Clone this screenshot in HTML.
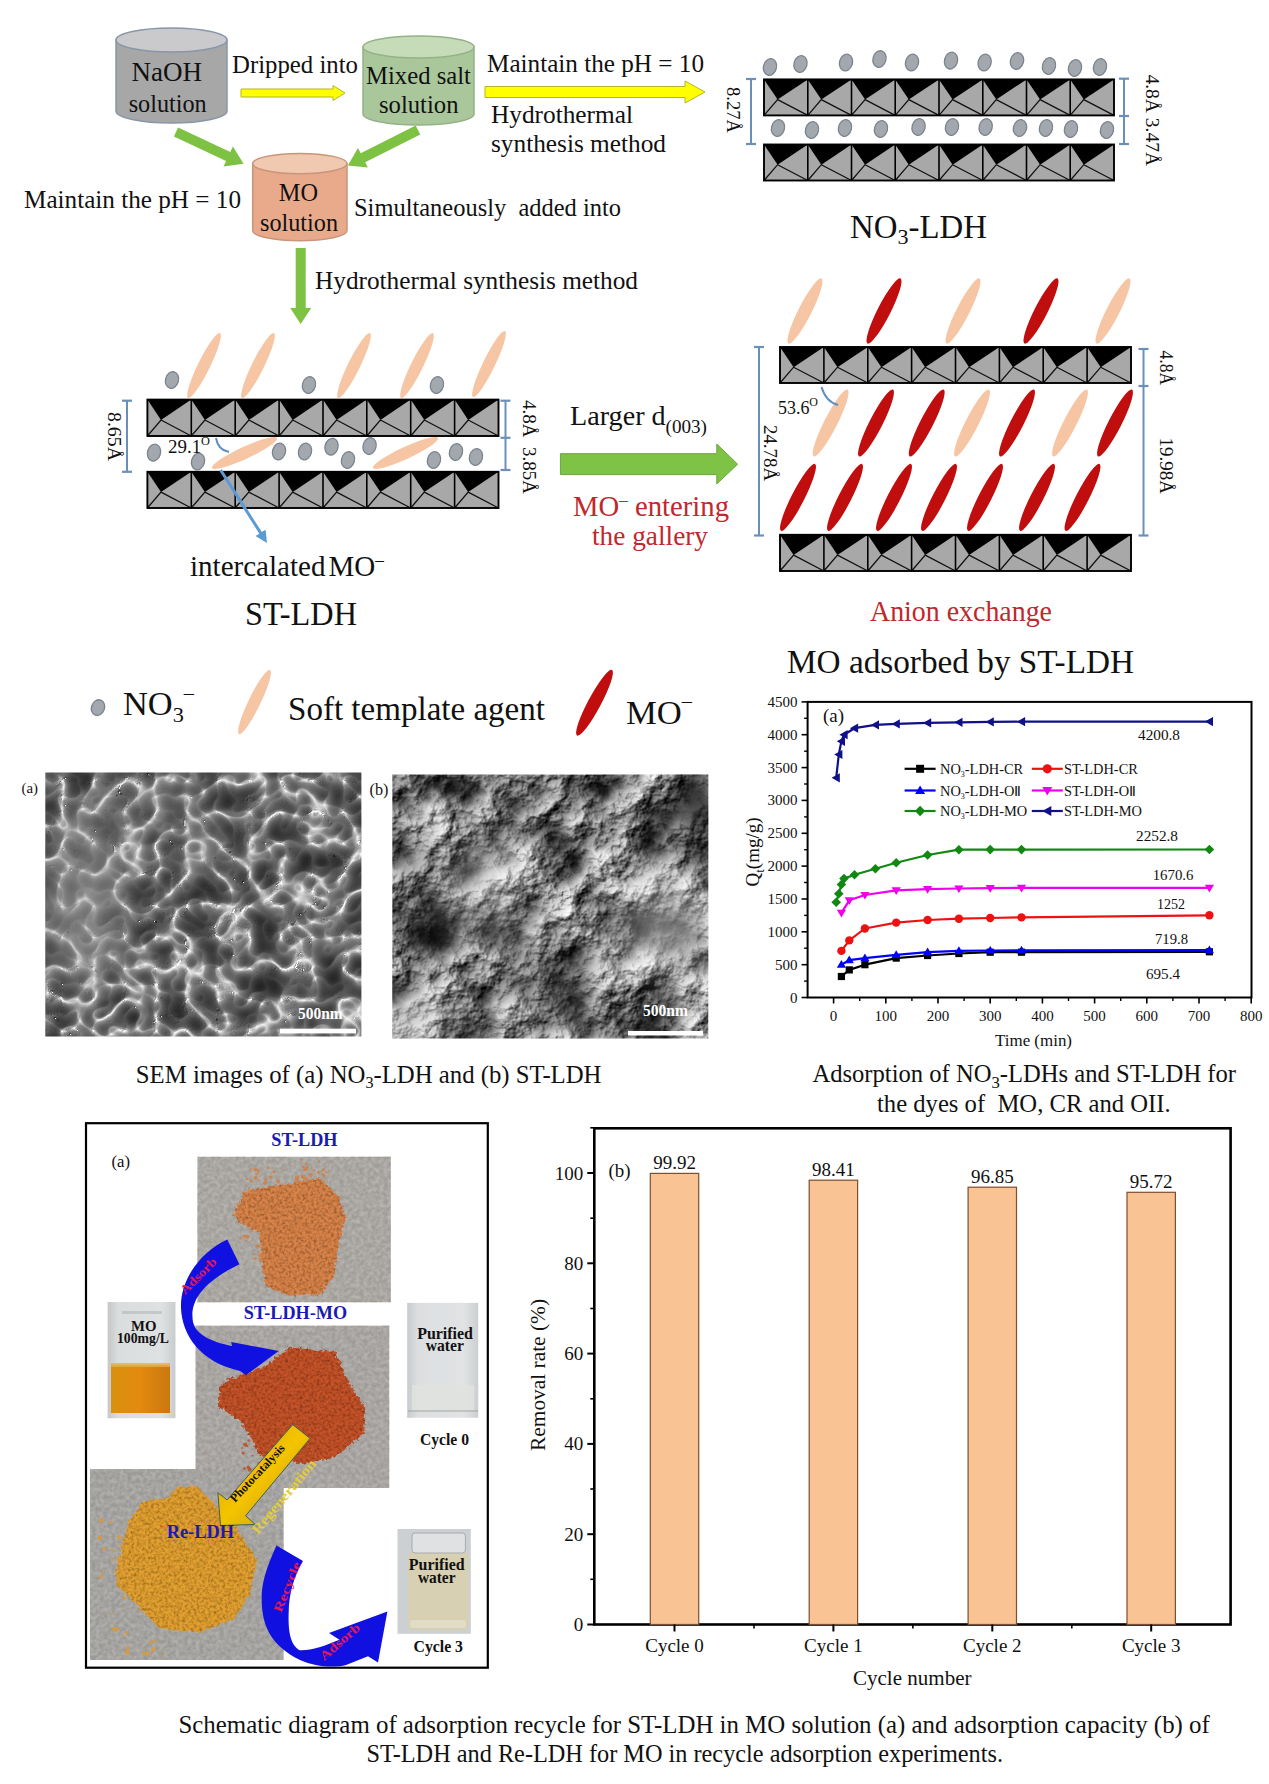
<!DOCTYPE html>
<html><head><meta charset="utf-8"><style>
html,body{margin:0;padding:0;background:#fff;}
svg{display:block;}
</style></head><body>
<svg width="1269" height="1784" viewBox="0 0 1269 1784">
<rect width="1269" height="1784" fill="#fff"/>
<path d="M116,40 L116,111 A55.5,12 0 0 0 227,111 L227,40 Z" fill="#a7a7a8" stroke="#8796a8" stroke-width="1.5"/>
<ellipse cx="171.5" cy="40" rx="55.5" ry="12" fill="#cacacc" stroke="#8796a8" stroke-width="1.5"/>
<text x="131.5" y="80.6" font-size="27.5" fill="#111" font-weight="normal" text-anchor="start" font-family="'Liberation Serif', serif" textLength="70.5" lengthAdjust="spacingAndGlyphs" >NaOH</text>
<text x="128.7" y="111.5" font-size="24.7" fill="#111" font-weight="normal" text-anchor="start" font-family="'Liberation Serif', serif" textLength="78.0" lengthAdjust="spacingAndGlyphs" >solution</text>
<path d="M363,47 L363,114 A55.5,11 0 0 0 474,114 L474,47 Z" fill="#a9c79b" stroke="#93b386" stroke-width="1.5"/>
<ellipse cx="418.5" cy="47" rx="55.5" ry="11" fill="#c6dcb9" stroke="#93b386" stroke-width="1.5"/>
<text x="366.0" y="84.0" font-size="25.2" fill="#111" font-weight="normal" text-anchor="start" font-family="'Liberation Serif', serif" textLength="105.0" lengthAdjust="spacingAndGlyphs" >Mixed salt</text>
<text x="379.0" y="113.0" font-size="25.2" fill="#111" font-weight="normal" text-anchor="start" font-family="'Liberation Serif', serif" textLength="79.5" lengthAdjust="spacingAndGlyphs" >solution</text>
<path d="M252.7,163.6 L252.7,230.5 A47.150000000000006,10.2 0 0 0 347,230.5 L347,163.6 Z" fill="#e9aa8b" stroke="#c9957a" stroke-width="1.5"/>
<ellipse cx="299.85" cy="163.6" rx="47.150000000000006" ry="10.2" fill="#f1c8b0" stroke="#c9957a" stroke-width="1.5"/>
<text x="278.8" y="200.7" font-size="24.8" fill="#111" font-weight="normal" text-anchor="start" font-family="'Liberation Serif', serif" textLength="39.2" lengthAdjust="spacingAndGlyphs" >MO</text>
<text x="260.0" y="230.5" font-size="24.7" fill="#111" font-weight="normal" text-anchor="start" font-family="'Liberation Serif', serif" textLength="78.0" lengthAdjust="spacingAndGlyphs" >solution</text>
<text x="232.0" y="73.0" font-size="25.3" fill="#111" font-weight="normal" text-anchor="start" font-family="'Liberation Serif', serif" textLength="126.0" lengthAdjust="spacingAndGlyphs" >Dripped into</text>
<polygon points="241.0,97.0 333.0,97.0 333.0,100.5 345.0,93.0 333.0,85.5 333.0,89.0 241.0,89.0" fill="#ffff00" stroke="#b5b52a" stroke-width="1"/>
<text x="487.0" y="72.0" font-size="25.7" fill="#111" font-weight="normal" text-anchor="start" font-family="'Liberation Serif', serif" textLength="217.0" lengthAdjust="spacingAndGlyphs" >Maintain the pH = 10</text>
<polygon points="485.0,97.5 685.0,97.5 685.0,103.0 705.0,92.0 685.0,81.0 685.0,86.5 485.0,86.5" fill="#ffff00" stroke="#b5b52a" stroke-width="1"/>
<text x="491.0" y="123.0" font-size="25.8" fill="#111" font-weight="normal" text-anchor="start" font-family="'Liberation Serif', serif" textLength="142.0" lengthAdjust="spacingAndGlyphs" >Hydrothermal</text>
<text x="491.0" y="152.0" font-size="25.8" fill="#111" font-weight="normal" text-anchor="start" font-family="'Liberation Serif', serif" textLength="175.0" lengthAdjust="spacingAndGlyphs" >synthesis method</text>
<polygon points="173.9,136.5 226.1,161.1 223.5,166.5 243.6,163.8 232.9,146.6 230.3,152.0 178.1,127.5" fill="#7dc243"/>
<polygon points="415.7,125.5 360.7,153.3 358.0,147.9 347.8,165.4 367.9,167.6 365.2,162.2 420.3,134.5" fill="#7dc243"/>
<polygon points="295.7,248.0 295.7,308.0 290.2,308.0 300.7,324.0 311.2,308.0 305.7,308.0 305.7,248.0" fill="#7dc243"/>
<text x="24.0" y="208.0" font-size="25.7" fill="#111" font-weight="normal" text-anchor="start" font-family="'Liberation Serif', serif" textLength="217.0" lengthAdjust="spacingAndGlyphs" >Maintain the pH = 10</text>
<text x="354.0" y="216.0" font-size="24.9" fill="#111" font-weight="normal" text-anchor="start" font-family="'Liberation Serif', serif" textLength="267.0" lengthAdjust="spacingAndGlyphs" >Simultaneously&#160; added into</text>
<text x="315.0" y="289.0" font-size="25.8" fill="#111" font-weight="normal" text-anchor="start" font-family="'Liberation Serif', serif" textLength="323.0" lengthAdjust="spacingAndGlyphs" >Hydrothermal synthesis method</text>
<ellipse cx="770" cy="67" rx="6.5" ry="8.5" transform="rotate(15 770 67)" fill="#a3a7ae" stroke="#7b838d" stroke-width="1.3"/>
<ellipse cx="800.5" cy="64" rx="6.5" ry="8.5" transform="rotate(15 800.5 64)" fill="#a3a7ae" stroke="#7b838d" stroke-width="1.3"/>
<ellipse cx="846" cy="62.5" rx="6.5" ry="8.5" transform="rotate(15 846 62.5)" fill="#a3a7ae" stroke="#7b838d" stroke-width="1.3"/>
<ellipse cx="879.5" cy="59" rx="6.5" ry="8.5" transform="rotate(15 879.5 59)" fill="#a3a7ae" stroke="#7b838d" stroke-width="1.3"/>
<ellipse cx="912" cy="62.5" rx="6.5" ry="8.5" transform="rotate(15 912 62.5)" fill="#a3a7ae" stroke="#7b838d" stroke-width="1.3"/>
<ellipse cx="951" cy="60.6" rx="6.5" ry="8.5" transform="rotate(15 951 60.6)" fill="#a3a7ae" stroke="#7b838d" stroke-width="1.3"/>
<ellipse cx="984.6" cy="62.5" rx="6.5" ry="8.5" transform="rotate(15 984.6 62.5)" fill="#a3a7ae" stroke="#7b838d" stroke-width="1.3"/>
<ellipse cx="1017" cy="61" rx="6.5" ry="8.5" transform="rotate(15 1017 61)" fill="#a3a7ae" stroke="#7b838d" stroke-width="1.3"/>
<ellipse cx="1049" cy="66" rx="6.5" ry="8.5" transform="rotate(15 1049 66)" fill="#a3a7ae" stroke="#7b838d" stroke-width="1.3"/>
<ellipse cx="1075" cy="68" rx="6.5" ry="8.5" transform="rotate(15 1075 68)" fill="#a3a7ae" stroke="#7b838d" stroke-width="1.3"/>
<ellipse cx="1100" cy="67" rx="6.5" ry="8.5" transform="rotate(15 1100 67)" fill="#a3a7ae" stroke="#7b838d" stroke-width="1.3"/>
<ellipse cx="778" cy="128" rx="6.5" ry="8.5" transform="rotate(15 778 128)" fill="#a3a7ae" stroke="#7b838d" stroke-width="1.3"/>
<ellipse cx="812" cy="130" rx="6.5" ry="8.5" transform="rotate(15 812 130)" fill="#a3a7ae" stroke="#7b838d" stroke-width="1.3"/>
<ellipse cx="845" cy="128" rx="6.5" ry="8.5" transform="rotate(15 845 128)" fill="#a3a7ae" stroke="#7b838d" stroke-width="1.3"/>
<ellipse cx="881" cy="129" rx="6.5" ry="8.5" transform="rotate(15 881 129)" fill="#a3a7ae" stroke="#7b838d" stroke-width="1.3"/>
<ellipse cx="918.6" cy="127" rx="6.5" ry="8.5" transform="rotate(15 918.6 127)" fill="#a3a7ae" stroke="#7b838d" stroke-width="1.3"/>
<ellipse cx="952" cy="127" rx="6.5" ry="8.5" transform="rotate(15 952 127)" fill="#a3a7ae" stroke="#7b838d" stroke-width="1.3"/>
<ellipse cx="985.7" cy="127" rx="6.5" ry="8.5" transform="rotate(15 985.7 127)" fill="#a3a7ae" stroke="#7b838d" stroke-width="1.3"/>
<ellipse cx="1020" cy="128" rx="6.5" ry="8.5" transform="rotate(15 1020 128)" fill="#a3a7ae" stroke="#7b838d" stroke-width="1.3"/>
<ellipse cx="1046" cy="128" rx="6.5" ry="8.5" transform="rotate(15 1046 128)" fill="#a3a7ae" stroke="#7b838d" stroke-width="1.3"/>
<ellipse cx="1071" cy="129" rx="6.5" ry="8.5" transform="rotate(15 1071 129)" fill="#a3a7ae" stroke="#7b838d" stroke-width="1.3"/>
<ellipse cx="1107" cy="130" rx="6.5" ry="8.5" transform="rotate(15 1107 130)" fill="#a3a7ae" stroke="#7b838d" stroke-width="1.3"/>
<rect x="764" y="79.4" width="350" height="36.0" fill="#a8a8a8"/>
<polygon points="764.0,79.4 807.8,79.4 777.6,99.6" fill="#000"/>
<path d="M764.0,115.4 L777.6,99.6 L807.8,115.4" stroke="#111" stroke-width="1.3" fill="none"/>
<polygon points="807.8,79.4 851.5,79.4 821.3,99.6" fill="#000"/>
<path d="M807.8,115.4 L821.3,99.6 L851.5,115.4" stroke="#111" stroke-width="1.3" fill="none"/>
<line x1="807.8" y1="79.4" x2="807.8" y2="115.4" stroke="#000" stroke-width="1.6"/>
<polygon points="851.5,79.4 895.2,79.4 865.1,99.6" fill="#000"/>
<path d="M851.5,115.4 L865.1,99.6 L895.2,115.4" stroke="#111" stroke-width="1.3" fill="none"/>
<line x1="851.5" y1="79.4" x2="851.5" y2="115.4" stroke="#000" stroke-width="1.6"/>
<polygon points="895.2,79.4 939.0,79.4 908.8,99.6" fill="#000"/>
<path d="M895.2,115.4 L908.8,99.6 L939.0,115.4" stroke="#111" stroke-width="1.3" fill="none"/>
<line x1="895.2" y1="79.4" x2="895.2" y2="115.4" stroke="#000" stroke-width="1.6"/>
<polygon points="939.0,79.4 982.8,79.4 952.6,99.6" fill="#000"/>
<path d="M939.0,115.4 L952.6,99.6 L982.8,115.4" stroke="#111" stroke-width="1.3" fill="none"/>
<line x1="939.0" y1="79.4" x2="939.0" y2="115.4" stroke="#000" stroke-width="1.6"/>
<polygon points="982.8,79.4 1026.5,79.4 996.3,99.6" fill="#000"/>
<path d="M982.8,115.4 L996.3,99.6 L1026.5,115.4" stroke="#111" stroke-width="1.3" fill="none"/>
<line x1="982.8" y1="79.4" x2="982.8" y2="115.4" stroke="#000" stroke-width="1.6"/>
<polygon points="1026.5,79.4 1070.2,79.4 1040.1,99.6" fill="#000"/>
<path d="M1026.5,115.4 L1040.1,99.6 L1070.2,115.4" stroke="#111" stroke-width="1.3" fill="none"/>
<line x1="1026.5" y1="79.4" x2="1026.5" y2="115.4" stroke="#000" stroke-width="1.6"/>
<polygon points="1070.2,79.4 1114.0,79.4 1083.8,99.6" fill="#000"/>
<path d="M1070.2,115.4 L1083.8,99.6 L1114.0,115.4" stroke="#111" stroke-width="1.3" fill="none"/>
<line x1="1070.2" y1="79.4" x2="1070.2" y2="115.4" stroke="#000" stroke-width="1.6"/>
<rect x="764" y="79.4" width="350" height="36.0" fill="none" stroke="#000" stroke-width="1.9"/>
<rect x="764" y="144.5" width="350" height="36.0" fill="#a8a8a8"/>
<polygon points="764.0,144.5 807.8,144.5 777.6,164.7" fill="#000"/>
<path d="M764.0,180.5 L777.6,164.7 L807.8,180.5" stroke="#111" stroke-width="1.3" fill="none"/>
<polygon points="807.8,144.5 851.5,144.5 821.3,164.7" fill="#000"/>
<path d="M807.8,180.5 L821.3,164.7 L851.5,180.5" stroke="#111" stroke-width="1.3" fill="none"/>
<line x1="807.8" y1="144.5" x2="807.8" y2="180.5" stroke="#000" stroke-width="1.6"/>
<polygon points="851.5,144.5 895.2,144.5 865.1,164.7" fill="#000"/>
<path d="M851.5,180.5 L865.1,164.7 L895.2,180.5" stroke="#111" stroke-width="1.3" fill="none"/>
<line x1="851.5" y1="144.5" x2="851.5" y2="180.5" stroke="#000" stroke-width="1.6"/>
<polygon points="895.2,144.5 939.0,144.5 908.8,164.7" fill="#000"/>
<path d="M895.2,180.5 L908.8,164.7 L939.0,180.5" stroke="#111" stroke-width="1.3" fill="none"/>
<line x1="895.2" y1="144.5" x2="895.2" y2="180.5" stroke="#000" stroke-width="1.6"/>
<polygon points="939.0,144.5 982.8,144.5 952.6,164.7" fill="#000"/>
<path d="M939.0,180.5 L952.6,164.7 L982.8,180.5" stroke="#111" stroke-width="1.3" fill="none"/>
<line x1="939.0" y1="144.5" x2="939.0" y2="180.5" stroke="#000" stroke-width="1.6"/>
<polygon points="982.8,144.5 1026.5,144.5 996.3,164.7" fill="#000"/>
<path d="M982.8,180.5 L996.3,164.7 L1026.5,180.5" stroke="#111" stroke-width="1.3" fill="none"/>
<line x1="982.8" y1="144.5" x2="982.8" y2="180.5" stroke="#000" stroke-width="1.6"/>
<polygon points="1026.5,144.5 1070.2,144.5 1040.1,164.7" fill="#000"/>
<path d="M1026.5,180.5 L1040.1,164.7 L1070.2,180.5" stroke="#111" stroke-width="1.3" fill="none"/>
<line x1="1026.5" y1="144.5" x2="1026.5" y2="180.5" stroke="#000" stroke-width="1.6"/>
<polygon points="1070.2,144.5 1114.0,144.5 1083.8,164.7" fill="#000"/>
<path d="M1070.2,180.5 L1083.8,164.7 L1114.0,180.5" stroke="#111" stroke-width="1.3" fill="none"/>
<line x1="1070.2" y1="144.5" x2="1070.2" y2="180.5" stroke="#000" stroke-width="1.6"/>
<rect x="764" y="144.5" width="350" height="36.0" fill="none" stroke="#000" stroke-width="1.9"/>
<line x1="751" y1="79" x2="751" y2="144" stroke="#6a90b9" stroke-width="2"/>
<line x1="746.0" y1="79" x2="756.0" y2="79" stroke="#6a90b9" stroke-width="2.2"/>
<line x1="746.0" y1="144" x2="756.0" y2="144" stroke="#6a90b9" stroke-width="2.2"/>
<line x1="1124" y1="78.7" x2="1124" y2="144" stroke="#6a90b9" stroke-width="2"/>
<line x1="1119.0" y1="78.7" x2="1129.0" y2="78.7" stroke="#6a90b9" stroke-width="2.2"/>
<line x1="1119.0" y1="116" x2="1129.0" y2="116" stroke="#6a90b9" stroke-width="2.2"/>
<line x1="1119.0" y1="144" x2="1129.0" y2="144" stroke="#6a90b9" stroke-width="2.2"/>
<text x="0" y="0" font-size="18.6" fill="#111" font-family="'Liberation Serif', serif" textLength="46.0" lengthAdjust="spacingAndGlyphs" transform="translate(727,87) rotate(90)">8.27&#197;</text>
<text x="0" y="0" font-size="19.4" fill="#111" font-family="'Liberation Serif', serif" textLength="91.5" lengthAdjust="spacingAndGlyphs" transform="translate(1146,74.5) rotate(90)">4.8&#197; 3.47&#197;</text>
<text x="850.0" y="238.0" font-size="32.8" fill="#111" font-weight="normal" text-anchor="start" font-family="'Liberation Serif', serif" textLength="137.0" lengthAdjust="spacingAndGlyphs" >NO<tspan font-size='22' dy='6'>3</tspan><tspan dy='-6'>-LDH</tspan></text>
<ellipse cx="204.0" cy="365.5" rx="36.2" ry="6.0" transform="rotate(-63.8 204.0 365.5)" fill="#f6c5a4"/>
<ellipse cx="258.0" cy="365.5" rx="36.2" ry="6.0" transform="rotate(-63.8 258.0 365.5)" fill="#f6c5a4"/>
<ellipse cx="354.0" cy="365.5" rx="36.2" ry="6.0" transform="rotate(-63.8 354.0 365.5)" fill="#f6c5a4"/>
<ellipse cx="417.0" cy="365.5" rx="36.2" ry="6.0" transform="rotate(-63.8 417.0 365.5)" fill="#f6c5a4"/>
<ellipse cx="489.0" cy="364.0" rx="36.7" ry="6.0" transform="rotate(-64.1 489.0 364.0)" fill="#f6c5a4"/>
<ellipse cx="172" cy="380" rx="6.5" ry="8.5" transform="rotate(15 172 380)" fill="#a3a7ae" stroke="#7b838d" stroke-width="1.3"/>
<ellipse cx="309" cy="385" rx="6.5" ry="8.5" transform="rotate(15 309 385)" fill="#a3a7ae" stroke="#7b838d" stroke-width="1.3"/>
<ellipse cx="437" cy="385" rx="6.5" ry="8.5" transform="rotate(15 437 385)" fill="#a3a7ae" stroke="#7b838d" stroke-width="1.3"/>
<rect x="147.4" y="399.6" width="351.1" height="36.39999999999998" fill="#a8a8a8"/>
<polygon points="147.4,399.6 191.3,399.6 161.0,420.0" fill="#000"/>
<path d="M147.4,436 L161.0,420.0 L191.3,436" stroke="#111" stroke-width="1.3" fill="none"/>
<polygon points="191.3,399.6 235.2,399.6 204.9,420.0" fill="#000"/>
<path d="M191.3,436 L204.9,420.0 L235.2,436" stroke="#111" stroke-width="1.3" fill="none"/>
<line x1="191.3" y1="399.6" x2="191.3" y2="436" stroke="#000" stroke-width="1.6"/>
<polygon points="235.2,399.6 279.1,399.6 248.8,420.0" fill="#000"/>
<path d="M235.2,436 L248.8,420.0 L279.1,436" stroke="#111" stroke-width="1.3" fill="none"/>
<line x1="235.2" y1="399.6" x2="235.2" y2="436" stroke="#000" stroke-width="1.6"/>
<polygon points="279.1,399.6 322.9,399.6 292.7,420.0" fill="#000"/>
<path d="M279.1,436 L292.7,420.0 L322.9,436" stroke="#111" stroke-width="1.3" fill="none"/>
<line x1="279.1" y1="399.6" x2="279.1" y2="436" stroke="#000" stroke-width="1.6"/>
<polygon points="323.0,399.6 366.8,399.6 336.6,420.0" fill="#000"/>
<path d="M323.0,436 L336.6,420.0 L366.8,436" stroke="#111" stroke-width="1.3" fill="none"/>
<line x1="323.0" y1="399.6" x2="323.0" y2="436" stroke="#000" stroke-width="1.6"/>
<polygon points="366.8,399.6 410.7,399.6 380.4,420.0" fill="#000"/>
<path d="M366.8,436 L380.4,420.0 L410.7,436" stroke="#111" stroke-width="1.3" fill="none"/>
<line x1="366.8" y1="399.6" x2="366.8" y2="436" stroke="#000" stroke-width="1.6"/>
<polygon points="410.7,399.6 454.6,399.6 424.3,420.0" fill="#000"/>
<path d="M410.7,436 L424.3,420.0 L454.6,436" stroke="#111" stroke-width="1.3" fill="none"/>
<line x1="410.7" y1="399.6" x2="410.7" y2="436" stroke="#000" stroke-width="1.6"/>
<polygon points="454.6,399.6 498.5,399.6 468.2,420.0" fill="#000"/>
<path d="M454.6,436 L468.2,420.0 L498.5,436" stroke="#111" stroke-width="1.3" fill="none"/>
<line x1="454.6" y1="399.6" x2="454.6" y2="436" stroke="#000" stroke-width="1.6"/>
<rect x="147.4" y="399.6" width="351.1" height="36.39999999999998" fill="none" stroke="#000" stroke-width="1.9"/>
<ellipse cx="244.5" cy="453.0" rx="35.8" ry="6.0" transform="rotate(-24.8 244.5 453.0)" fill="#f6c5a4"/>
<ellipse cx="405.5" cy="453.0" rx="35.8" ry="6.0" transform="rotate(-24.8 405.5 453.0)" fill="#f6c5a4"/>
<ellipse cx="154" cy="452.6" rx="6.5" ry="8.5" transform="rotate(15 154 452.6)" fill="#a3a7ae" stroke="#7b838d" stroke-width="1.3"/>
<ellipse cx="198" cy="461.5" rx="6.5" ry="8.5" transform="rotate(15 198 461.5)" fill="#a3a7ae" stroke="#7b838d" stroke-width="1.3"/>
<ellipse cx="279" cy="451.5" rx="6.5" ry="8.5" transform="rotate(15 279 451.5)" fill="#a3a7ae" stroke="#7b838d" stroke-width="1.3"/>
<ellipse cx="305" cy="451.5" rx="6.5" ry="8.5" transform="rotate(15 305 451.5)" fill="#a3a7ae" stroke="#7b838d" stroke-width="1.3"/>
<ellipse cx="331.5" cy="446.7" rx="6.5" ry="8.5" transform="rotate(15 331.5 446.7)" fill="#a3a7ae" stroke="#7b838d" stroke-width="1.3"/>
<ellipse cx="348" cy="460" rx="6.5" ry="8.5" transform="rotate(15 348 460)" fill="#a3a7ae" stroke="#7b838d" stroke-width="1.3"/>
<ellipse cx="369.6" cy="446" rx="6.5" ry="8.5" transform="rotate(15 369.6 446)" fill="#a3a7ae" stroke="#7b838d" stroke-width="1.3"/>
<ellipse cx="434" cy="460" rx="6.5" ry="8.5" transform="rotate(15 434 460)" fill="#a3a7ae" stroke="#7b838d" stroke-width="1.3"/>
<ellipse cx="456" cy="452" rx="6.5" ry="8.5" transform="rotate(15 456 452)" fill="#a3a7ae" stroke="#7b838d" stroke-width="1.3"/>
<ellipse cx="476" cy="457" rx="6.5" ry="8.5" transform="rotate(15 476 457)" fill="#a3a7ae" stroke="#7b838d" stroke-width="1.3"/>
<rect x="147.4" y="471.8" width="351.1" height="36.19999999999999" fill="#a8a8a8"/>
<polygon points="147.4,471.8 191.3,471.8 161.0,492.1" fill="#000"/>
<path d="M147.4,508 L161.0,492.1 L191.3,508" stroke="#111" stroke-width="1.3" fill="none"/>
<polygon points="191.3,471.8 235.2,471.8 204.9,492.1" fill="#000"/>
<path d="M191.3,508 L204.9,492.1 L235.2,508" stroke="#111" stroke-width="1.3" fill="none"/>
<line x1="191.3" y1="471.8" x2="191.3" y2="508" stroke="#000" stroke-width="1.6"/>
<polygon points="235.2,471.8 279.1,471.8 248.8,492.1" fill="#000"/>
<path d="M235.2,508 L248.8,492.1 L279.1,508" stroke="#111" stroke-width="1.3" fill="none"/>
<line x1="235.2" y1="471.8" x2="235.2" y2="508" stroke="#000" stroke-width="1.6"/>
<polygon points="279.1,471.8 322.9,471.8 292.7,492.1" fill="#000"/>
<path d="M279.1,508 L292.7,492.1 L322.9,508" stroke="#111" stroke-width="1.3" fill="none"/>
<line x1="279.1" y1="471.8" x2="279.1" y2="508" stroke="#000" stroke-width="1.6"/>
<polygon points="323.0,471.8 366.8,471.8 336.6,492.1" fill="#000"/>
<path d="M323.0,508 L336.6,492.1 L366.8,508" stroke="#111" stroke-width="1.3" fill="none"/>
<line x1="323.0" y1="471.8" x2="323.0" y2="508" stroke="#000" stroke-width="1.6"/>
<polygon points="366.8,471.8 410.7,471.8 380.4,492.1" fill="#000"/>
<path d="M366.8,508 L380.4,492.1 L410.7,508" stroke="#111" stroke-width="1.3" fill="none"/>
<line x1="366.8" y1="471.8" x2="366.8" y2="508" stroke="#000" stroke-width="1.6"/>
<polygon points="410.7,471.8 454.6,471.8 424.3,492.1" fill="#000"/>
<path d="M410.7,508 L424.3,492.1 L454.6,508" stroke="#111" stroke-width="1.3" fill="none"/>
<line x1="410.7" y1="471.8" x2="410.7" y2="508" stroke="#000" stroke-width="1.6"/>
<polygon points="454.6,471.8 498.5,471.8 468.2,492.1" fill="#000"/>
<path d="M454.6,508 L468.2,492.1 L498.5,508" stroke="#111" stroke-width="1.3" fill="none"/>
<line x1="454.6" y1="471.8" x2="454.6" y2="508" stroke="#000" stroke-width="1.6"/>
<rect x="147.4" y="471.8" width="351.1" height="36.19999999999999" fill="none" stroke="#000" stroke-width="1.9"/>
<line x1="127" y1="400.7" x2="127" y2="471.8" stroke="#6a90b9" stroke-width="2"/>
<line x1="122.0" y1="400.7" x2="132.0" y2="400.7" stroke="#6a90b9" stroke-width="2.2"/>
<line x1="122.0" y1="471.8" x2="132.0" y2="471.8" stroke="#6a90b9" stroke-width="2.2"/>
<line x1="505.5" y1="400.7" x2="505.5" y2="470" stroke="#6a90b9" stroke-width="2"/>
<line x1="500.5" y1="400.7" x2="510.5" y2="400.7" stroke="#6a90b9" stroke-width="2.2"/>
<line x1="500.5" y1="437.8" x2="510.5" y2="437.8" stroke="#6a90b9" stroke-width="2.2"/>
<line x1="500.5" y1="470" x2="510.5" y2="470" stroke="#6a90b9" stroke-width="2.2"/>
<text x="0" y="0" font-size="19.5" fill="#111" font-family="'Liberation Serif', serif" textLength="49.0" lengthAdjust="spacingAndGlyphs" transform="translate(108,412) rotate(90)">8.65&#197;</text>
<text x="0" y="0" font-size="19" fill="#111" font-family="'Liberation Serif', serif" textLength="94.0" lengthAdjust="spacingAndGlyphs" transform="translate(523,400) rotate(90)">4.8&#197;&#160; 3.85&#197;</text>
<text x="168.0" y="452.6" font-size="18.5" fill="#111" font-weight="normal" text-anchor="start" font-family="'Liberation Serif', serif" textLength="42.0" lengthAdjust="spacingAndGlyphs" >29.1<tspan font-size='12' dy='-8'>O</tspan></text>
<path d="M216,438 Q218,450 229,452" stroke="#5b8fc4" stroke-width="2" fill="none"/>
<polygon points="219.3,470.8 259.3,533.7 255.5,536.1 267.0,543.0 265.6,529.7 261.8,532.1 221.9,469.2" fill="#5b9bd5"/>
<text x="190.0" y="576.0" font-size="28.5" fill="#111" font-weight="normal" text-anchor="start" font-family="'Liberation Serif', serif" textLength="194.0" lengthAdjust="spacingAndGlyphs" >intercalated<tspan dx='3'>MO</tspan><tspan font-size='17' dy='-11'>&#8211;</tspan></text>
<text x="245.0" y="625.0" font-size="33.0" fill="#111" font-weight="normal" text-anchor="start" font-family="'Liberation Serif', serif" textLength="112.0" lengthAdjust="spacingAndGlyphs" >ST-LDH</text>
<text x="570.0" y="425.4" font-size="28" fill="#111" font-weight="normal" text-anchor="start" font-family="'Liberation Serif', serif" textLength="137.0" lengthAdjust="spacingAndGlyphs" >Larger d<tspan font-size='19' dy='8'>(003)</tspan></text>
<polygon points="560.4,453.7 716.8,453.7 716.8,444 737.6,464.2 716.8,484 716.8,474.6 560.4,474.6" fill="#7fc346" stroke="#6aa63a" stroke-width="1"/>
<text x="573.0" y="516.0" font-size="28.5" fill="#c0282d" font-weight="normal" text-anchor="start" font-family="'Liberation Serif', serif" textLength="156.0" lengthAdjust="spacingAndGlyphs" >MO<tspan font-size='17' dy='-11'>&#8211;</tspan><tspan dy='11'> entering</tspan></text>
<text x="592.0" y="544.5" font-size="27.9" fill="#c0282d" font-weight="normal" text-anchor="start" font-family="'Liberation Serif', serif" textLength="116.0" lengthAdjust="spacingAndGlyphs" >the gallery</text>
<ellipse cx="805.0" cy="311.0" rx="36.5" ry="6.5" transform="rotate(-63.0 805.0 311.0)" fill="#f6c5a4"/>
<ellipse cx="884.0" cy="311.0" rx="36.5" ry="6.5" transform="rotate(-63.0 884.0 311.0)" fill="#c00d0d"/>
<ellipse cx="963.0" cy="311.0" rx="36.5" ry="6.5" transform="rotate(-63.0 963.0 311.0)" fill="#f6c5a4"/>
<ellipse cx="1041.0" cy="311.0" rx="36.5" ry="6.5" transform="rotate(-63.0 1041.0 311.0)" fill="#c00d0d"/>
<ellipse cx="1113.0" cy="311.0" rx="36.5" ry="6.5" transform="rotate(-63.0 1113.0 311.0)" fill="#f6c5a4"/>
<rect x="780" y="347" width="351" height="36" fill="#a8a8a8"/>
<polygon points="780.0,347 823.9,347 793.6,367.2" fill="#000"/>
<path d="M780.0,383 L793.6,367.2 L823.9,383" stroke="#111" stroke-width="1.3" fill="none"/>
<polygon points="823.9,347 867.8,347 837.5,367.2" fill="#000"/>
<path d="M823.9,383 L837.5,367.2 L867.8,383" stroke="#111" stroke-width="1.3" fill="none"/>
<line x1="823.9" y1="347" x2="823.9" y2="383" stroke="#000" stroke-width="1.6"/>
<polygon points="867.8,347 911.6,347 881.4,367.2" fill="#000"/>
<path d="M867.8,383 L881.4,367.2 L911.6,383" stroke="#111" stroke-width="1.3" fill="none"/>
<line x1="867.8" y1="347" x2="867.8" y2="383" stroke="#000" stroke-width="1.6"/>
<polygon points="911.6,347 955.5,347 925.2,367.2" fill="#000"/>
<path d="M911.6,383 L925.2,367.2 L955.5,383" stroke="#111" stroke-width="1.3" fill="none"/>
<line x1="911.6" y1="347" x2="911.6" y2="383" stroke="#000" stroke-width="1.6"/>
<polygon points="955.5,347 999.4,347 969.1,367.2" fill="#000"/>
<path d="M955.5,383 L969.1,367.2 L999.4,383" stroke="#111" stroke-width="1.3" fill="none"/>
<line x1="955.5" y1="347" x2="955.5" y2="383" stroke="#000" stroke-width="1.6"/>
<polygon points="999.4,347 1043.2,347 1013.0,367.2" fill="#000"/>
<path d="M999.4,383 L1013.0,367.2 L1043.2,383" stroke="#111" stroke-width="1.3" fill="none"/>
<line x1="999.4" y1="347" x2="999.4" y2="383" stroke="#000" stroke-width="1.6"/>
<polygon points="1043.2,347 1087.1,347 1056.9,367.2" fill="#000"/>
<path d="M1043.2,383 L1056.9,367.2 L1087.1,383" stroke="#111" stroke-width="1.3" fill="none"/>
<line x1="1043.2" y1="347" x2="1043.2" y2="383" stroke="#000" stroke-width="1.6"/>
<polygon points="1087.1,347 1131.0,347 1100.7,367.2" fill="#000"/>
<path d="M1087.1,383 L1100.7,367.2 L1131.0,383" stroke="#111" stroke-width="1.3" fill="none"/>
<line x1="1087.1" y1="347" x2="1087.1" y2="383" stroke="#000" stroke-width="1.6"/>
<rect x="780" y="347" width="351" height="36" fill="none" stroke="#000" stroke-width="1.9"/>
<ellipse cx="830.6" cy="423.0" rx="37.5" ry="6.5" transform="rotate(-63.0 830.6 423.0)" fill="#f6c5a4"/>
<ellipse cx="876.0" cy="423.0" rx="37.5" ry="6.5" transform="rotate(-63.0 876.0 423.0)" fill="#c00d0d"/>
<ellipse cx="926.7" cy="423.0" rx="37.5" ry="6.5" transform="rotate(-63.0 926.7 423.0)" fill="#c00d0d"/>
<ellipse cx="972.0" cy="423.0" rx="37.5" ry="6.5" transform="rotate(-63.0 972.0 423.0)" fill="#f6c5a4"/>
<ellipse cx="1017.0" cy="423.0" rx="37.5" ry="6.5" transform="rotate(-63.0 1017.0 423.0)" fill="#c00d0d"/>
<ellipse cx="1070.0" cy="423.0" rx="37.5" ry="6.5" transform="rotate(-63.0 1070.0 423.0)" fill="#f6c5a4"/>
<ellipse cx="1115.0" cy="423.0" rx="37.5" ry="6.5" transform="rotate(-63.0 1115.0 423.0)" fill="#c00d0d"/>
<ellipse cx="798.0" cy="497.4" rx="37.5" ry="6.5" transform="rotate(-63.0 798.0 497.4)" fill="#c00d0d"/>
<ellipse cx="845.0" cy="497.4" rx="37.5" ry="6.5" transform="rotate(-63.0 845.0 497.4)" fill="#c00d0d"/>
<ellipse cx="894.0" cy="497.4" rx="37.5" ry="6.5" transform="rotate(-63.0 894.0 497.4)" fill="#c00d0d"/>
<ellipse cx="939.0" cy="497.4" rx="37.5" ry="6.5" transform="rotate(-63.0 939.0 497.4)" fill="#c00d0d"/>
<ellipse cx="985.0" cy="497.4" rx="37.5" ry="6.5" transform="rotate(-63.0 985.0 497.4)" fill="#c00d0d"/>
<ellipse cx="1037.0" cy="497.4" rx="37.5" ry="6.5" transform="rotate(-63.0 1037.0 497.4)" fill="#c00d0d"/>
<ellipse cx="1082.5" cy="497.4" rx="37.5" ry="6.5" transform="rotate(-63.0 1082.5 497.4)" fill="#c00d0d"/>
<rect x="780" y="534.8" width="351" height="36.200000000000045" fill="#a8a8a8"/>
<polygon points="780.0,534.8 823.9,534.8 793.6,555.1" fill="#000"/>
<path d="M780.0,571 L793.6,555.1 L823.9,571" stroke="#111" stroke-width="1.3" fill="none"/>
<polygon points="823.9,534.8 867.8,534.8 837.5,555.1" fill="#000"/>
<path d="M823.9,571 L837.5,555.1 L867.8,571" stroke="#111" stroke-width="1.3" fill="none"/>
<line x1="823.9" y1="534.8" x2="823.9" y2="571" stroke="#000" stroke-width="1.6"/>
<polygon points="867.8,534.8 911.6,534.8 881.4,555.1" fill="#000"/>
<path d="M867.8,571 L881.4,555.1 L911.6,571" stroke="#111" stroke-width="1.3" fill="none"/>
<line x1="867.8" y1="534.8" x2="867.8" y2="571" stroke="#000" stroke-width="1.6"/>
<polygon points="911.6,534.8 955.5,534.8 925.2,555.1" fill="#000"/>
<path d="M911.6,571 L925.2,555.1 L955.5,571" stroke="#111" stroke-width="1.3" fill="none"/>
<line x1="911.6" y1="534.8" x2="911.6" y2="571" stroke="#000" stroke-width="1.6"/>
<polygon points="955.5,534.8 999.4,534.8 969.1,555.1" fill="#000"/>
<path d="M955.5,571 L969.1,555.1 L999.4,571" stroke="#111" stroke-width="1.3" fill="none"/>
<line x1="955.5" y1="534.8" x2="955.5" y2="571" stroke="#000" stroke-width="1.6"/>
<polygon points="999.4,534.8 1043.2,534.8 1013.0,555.1" fill="#000"/>
<path d="M999.4,571 L1013.0,555.1 L1043.2,571" stroke="#111" stroke-width="1.3" fill="none"/>
<line x1="999.4" y1="534.8" x2="999.4" y2="571" stroke="#000" stroke-width="1.6"/>
<polygon points="1043.2,534.8 1087.1,534.8 1056.9,555.1" fill="#000"/>
<path d="M1043.2,571 L1056.9,555.1 L1087.1,571" stroke="#111" stroke-width="1.3" fill="none"/>
<line x1="1043.2" y1="534.8" x2="1043.2" y2="571" stroke="#000" stroke-width="1.6"/>
<polygon points="1087.1,534.8 1131.0,534.8 1100.7,555.1" fill="#000"/>
<path d="M1087.1,571 L1100.7,555.1 L1131.0,571" stroke="#111" stroke-width="1.3" fill="none"/>
<line x1="1087.1" y1="534.8" x2="1087.1" y2="571" stroke="#000" stroke-width="1.6"/>
<rect x="780" y="534.8" width="351" height="36.200000000000045" fill="none" stroke="#000" stroke-width="1.9"/>
<line x1="759" y1="347" x2="759" y2="535.5" stroke="#6a90b9" stroke-width="2"/>
<line x1="754.0" y1="347" x2="764.0" y2="347" stroke="#6a90b9" stroke-width="2.2"/>
<line x1="754.0" y1="535.5" x2="764.0" y2="535.5" stroke="#6a90b9" stroke-width="2.2"/>
<line x1="1143.5" y1="349" x2="1143.5" y2="535.5" stroke="#6a90b9" stroke-width="2"/>
<line x1="1138.5" y1="349" x2="1148.5" y2="349" stroke="#6a90b9" stroke-width="2.2"/>
<line x1="1138.5" y1="386" x2="1148.5" y2="386" stroke="#6a90b9" stroke-width="2.2"/>
<line x1="1138.5" y1="535.5" x2="1148.5" y2="535.5" stroke="#6a90b9" stroke-width="2.2"/>
<text x="0" y="0" font-size="18.8" fill="#111" font-family="'Liberation Serif', serif" textLength="56.0" lengthAdjust="spacingAndGlyphs" transform="translate(764,425) rotate(90)">24.78&#197;</text>
<text x="0" y="0" font-size="18.5" fill="#111" font-family="'Liberation Serif', serif" textLength="34.4" lengthAdjust="spacingAndGlyphs" transform="translate(1160,350.6) rotate(90)">4.8&#197;</text>
<text x="0" y="0" font-size="18.9" fill="#111" font-family="'Liberation Serif', serif" textLength="56.4" lengthAdjust="spacingAndGlyphs" transform="translate(1160,437.6) rotate(90)">19.98&#197;</text>
<text x="778.0" y="414.0" font-size="18" fill="#111" font-weight="normal" text-anchor="start" font-family="'Liberation Serif', serif" textLength="40.0" lengthAdjust="spacingAndGlyphs" >53.6<tspan font-size='12' dy='-8'>O</tspan></text>
<path d="M821.5,387 Q826,402 838,405" stroke="#5b8fc4" stroke-width="2" fill="none"/>
<text x="870.0" y="620.8" font-size="28.4" fill="#c0282d" font-weight="normal" text-anchor="start" font-family="'Liberation Serif', serif" textLength="182.0" lengthAdjust="spacingAndGlyphs" >Anion exchange</text>
<text x="787.0" y="673.0" font-size="33.9" fill="#111" font-weight="normal" text-anchor="start" font-family="'Liberation Serif', serif" textLength="347.0" lengthAdjust="spacingAndGlyphs" >MO adsorbed by ST-LDH</text>
<ellipse cx="98" cy="707.6" rx="6.5" ry="8" transform="rotate(20 98 707.6)" fill="#a3a7ae" stroke="#7b838d" stroke-width="1.3"/>
<text x="123.0" y="715.0" font-size="34" fill="#111" font-weight="normal" text-anchor="start" font-family="'Liberation Serif', serif" textLength="71.0" lengthAdjust="spacingAndGlyphs" >NO<tspan font-size='22' dy='7'>3</tspan><tspan font-size='20' dy='-22'>&#8211;</tspan></text>
<ellipse cx="254.5" cy="702.0" rx="35.6" ry="6.0" transform="rotate(-64.2 254.5 702.0)" fill="#f6c5a4"/>
<text x="288.0" y="719.7" font-size="33.7" fill="#111" font-weight="normal" text-anchor="start" font-family="'Liberation Serif', serif" textLength="257.0" lengthAdjust="spacingAndGlyphs" >Soft template agent</text>
<ellipse cx="594.5" cy="702.8" rx="37.2" ry="6.5" transform="rotate(-61.9 594.5 702.8)" fill="#c00d0d"/>
<text x="626.0" y="724.0" font-size="34" fill="#111" font-weight="normal" text-anchor="start" font-family="'Liberation Serif', serif" textLength="66.0" lengthAdjust="spacingAndGlyphs" >MO<tspan font-size='20' dy='-16'>&#8211;</tspan></text>
<defs>
<filter id="semA" x="0" y="0" width="100%" height="100%" color-interpolation-filters="sRGB">
 <feTurbulence type="turbulence" baseFrequency="0.032" numOctaves="2" seed="7" result="t0"/>
 <feColorMatrix in="t0" type="matrix" values="1 0 0 0 0  1 0 0 0 0  1 0 0 0 0  0 0 0 0 1" result="t"/>
 <feComponentTransfer in="t" result="walls"><feFuncR type="table" tableValues="0.98 0.5 0.36 0.27 0.2 0.15 0.12"/><feFuncG type="table" tableValues="0.98 0.5 0.36 0.27 0.2 0.15 0.12"/><feFuncB type="table" tableValues="0.98 0.5 0.36 0.27 0.2 0.15 0.12"/></feComponentTransfer>
 <feTurbulence type="turbulence" baseFrequency="0.02" numOctaves="2" seed="3" result="u0"/>
 <feColorMatrix in="u0" type="matrix" values="0 1 0 0 0  0 1 0 0 0  0 1 0 0 0  0 0 0 0 1" result="u"/>
 <feComponentTransfer in="u" result="walls2"><feFuncR type="table" tableValues="1.4 1.1 1 0.95 0.9"/><feFuncG type="table" tableValues="1.4 1.1 1 0.95 0.9"/><feFuncB type="table" tableValues="1.4 1.1 1 0.95 0.9"/></feComponentTransfer>
 <feBlend in="walls" in2="walls2" mode="multiply" result="w"/>
 <feColorMatrix in="t0" type="matrix" values="0 0 0 0 0  0 0 0 0 0  0 0 0 0 0  1 0 0 0 0" result="h"/>
 <feDiffuseLighting in="h" surfaceScale="3" diffuseConstant="1.15" lighting-color="#fff" result="lit"><feDistantLight azimuth="225" elevation="50"/></feDiffuseLighting>
 <feBlend in="w" in2="lit" mode="multiply" result="wl"/>
 <feComponentTransfer in="wl"><feFuncR type="linear" slope="1.09"/><feFuncG type="linear" slope="1.09"/><feFuncB type="linear" slope="1.09"/></feComponentTransfer>
</filter>
<filter id="semB" x="0" y="0" width="100%" height="100%" color-interpolation-filters="sRGB">
 <feTurbulence type="fractalNoise" baseFrequency="0.022" numOctaves="6" seed="21" result="t0"/>
 <feColorMatrix in="t0" type="matrix" values="0 0 0 0 0  0 0 0 0 0  0 0 0 0 0  1 0 0 0 0" result="h"/>
 <feDiffuseLighting in="h" surfaceScale="14" diffuseConstant="1.1" lighting-color="#fff" result="lit">
   <feDistantLight azimuth="225" elevation="45"/>
 </feDiffuseLighting>
 <feComponentTransfer in="t0" result="ao"><feFuncR type="table" tableValues="0 0.15 0.55 0.85 1 1"/></feComponentTransfer>
 <feColorMatrix in="ao" type="matrix" values="1 0 0 0 0  1 0 0 0 0  1 0 0 0 0  0 0 0 0 1" result="ao2"/>
 <feBlend in="lit" in2="ao2" mode="multiply"/>
</filter>
<filter id="blur6"><feGaussianBlur stdDeviation="6"/></filter>
<filter id="blur12"><feGaussianBlur stdDeviation="12"/></filter>
<filter id="blur18" x="-50%" y="-50%" width="200%" height="200%"><feGaussianBlur stdDeviation="18"/></filter>
<clipPath id="clipA"><rect x="45.3" y="772.6" width="316.1" height="263.8"/></clipPath>
<clipPath id="clipB"><rect x="392.3" y="774.4" width="316" height="264.1"/></clipPath>
</defs>
<g clip-path="url(#clipA)">
<rect x="45.3" y="772.6" width="316.1" height="263.8" filter="url(#semA)"/>
<ellipse cx="85" cy="900" rx="45" ry="90" fill="#b0b0b0" opacity="0.45" filter="url(#blur18)"/>
<ellipse cx="140" cy="800" rx="40" ry="30" fill="#aaa" opacity="0.3" filter="url(#blur18)"/>
<ellipse cx="200" cy="840" rx="30" ry="40" fill="#999" opacity="0.3" filter="url(#blur18)"/>
</g>
<g clip-path="url(#clipB)">
<rect x="392.3" y="774.4" width="316" height="264.1" filter="url(#semB)"/>
<ellipse cx="420" cy="900" rx="30" ry="70" fill="#222" opacity="0.35" filter="url(#blur18)"/>
<ellipse cx="560" cy="990" rx="50" ry="40" fill="#222" opacity="0.3" filter="url(#blur18)"/>
<ellipse cx="485" cy="885" rx="40" ry="45" fill="#c8c8c8" opacity="0.4" filter="url(#blur18)"/>
<ellipse cx="668" cy="925" rx="42" ry="55" fill="#d0d0d0" opacity="0.5" filter="url(#blur18)"/>
<ellipse cx="415" cy="1020" rx="35" ry="25" fill="#ccc" opacity="0.5" filter="url(#blur18)"/>
<ellipse cx="700" cy="808" rx="22" ry="35" fill="#000" opacity="1.0" filter="url(#blur18)"/>
</g>
<rect x="280" y="1028.7" width="76" height="4.7" fill="#fff"/>
<rect x="628" y="1031" width="75" height="4.5" fill="#fff"/>
<text x="298.0" y="1019.0" font-size="15.7" fill="#fff" font-weight="bold" text-anchor="start" font-family="'Liberation Serif', serif" textLength="44.6" lengthAdjust="spacingAndGlyphs" >500nm</text>
<text x="643.0" y="1016.0" font-size="15.9" fill="#fff" font-weight="bold" text-anchor="start" font-family="'Liberation Serif', serif" textLength="45.0" lengthAdjust="spacingAndGlyphs" >500nm</text>
<text x="21.5" y="793.0" font-size="15.2" fill="#111" font-weight="normal" text-anchor="start" font-family="'Liberation Serif', serif" textLength="16.5" lengthAdjust="spacingAndGlyphs" >(a)</text>
<text x="369.6" y="795.0" font-size="16.5" fill="#111" font-weight="normal" text-anchor="start" font-family="'Liberation Serif', serif" textLength="18.9" lengthAdjust="spacingAndGlyphs" >(b)</text>
<text x="135.8" y="1082.7" font-size="24.5" fill="#111" font-weight="normal" text-anchor="start" font-family="'Liberation Serif', serif" textLength="465.7" lengthAdjust="spacingAndGlyphs" >SEM images of (a) NO<tspan font-size='16' dy='5'>3</tspan><tspan dy='-5'>-LDH and (b) ST-LDH</tspan></text>
<rect x="807.6" y="701.9" width="443.9" height="295.6" fill="none" stroke="#000" stroke-width="2"/>
<line x1="801.6" y1="997.5" x2="807.6" y2="997.5" stroke="#000" stroke-width="1.6"/>
<text x="797.6" y="1002.5" font-size="15" fill="#111" font-weight="normal" text-anchor="end" font-family="'Liberation Serif', serif" >0</text>
<line x1="804.1" y1="981.1" x2="807.6" y2="981.1" stroke="#000" stroke-width="1.4"/>
<line x1="801.6" y1="964.7" x2="807.6" y2="964.7" stroke="#000" stroke-width="1.6"/>
<text x="797.6" y="969.7" font-size="15" fill="#111" font-weight="normal" text-anchor="end" font-family="'Liberation Serif', serif" >500</text>
<line x1="804.1" y1="948.2" x2="807.6" y2="948.2" stroke="#000" stroke-width="1.4"/>
<line x1="801.6" y1="931.8" x2="807.6" y2="931.8" stroke="#000" stroke-width="1.6"/>
<text x="797.6" y="936.8" font-size="15" fill="#111" font-weight="normal" text-anchor="end" font-family="'Liberation Serif', serif" >1000</text>
<line x1="804.1" y1="915.4" x2="807.6" y2="915.4" stroke="#000" stroke-width="1.4"/>
<line x1="801.6" y1="899.0" x2="807.6" y2="899.0" stroke="#000" stroke-width="1.6"/>
<text x="797.6" y="904.0" font-size="15" fill="#111" font-weight="normal" text-anchor="end" font-family="'Liberation Serif', serif" >1500</text>
<line x1="804.1" y1="882.5" x2="807.6" y2="882.5" stroke="#000" stroke-width="1.4"/>
<line x1="801.6" y1="866.1" x2="807.6" y2="866.1" stroke="#000" stroke-width="1.6"/>
<text x="797.6" y="871.1" font-size="15" fill="#111" font-weight="normal" text-anchor="end" font-family="'Liberation Serif', serif" >2000</text>
<line x1="804.1" y1="849.7" x2="807.6" y2="849.7" stroke="#000" stroke-width="1.4"/>
<line x1="801.6" y1="833.3" x2="807.6" y2="833.3" stroke="#000" stroke-width="1.6"/>
<text x="797.6" y="838.3" font-size="15" fill="#111" font-weight="normal" text-anchor="end" font-family="'Liberation Serif', serif" >2500</text>
<line x1="804.1" y1="816.9" x2="807.6" y2="816.9" stroke="#000" stroke-width="1.4"/>
<line x1="801.6" y1="800.4" x2="807.6" y2="800.4" stroke="#000" stroke-width="1.6"/>
<text x="797.6" y="805.4" font-size="15" fill="#111" font-weight="normal" text-anchor="end" font-family="'Liberation Serif', serif" >3000</text>
<line x1="804.1" y1="784.0" x2="807.6" y2="784.0" stroke="#000" stroke-width="1.4"/>
<line x1="801.6" y1="767.6" x2="807.6" y2="767.6" stroke="#000" stroke-width="1.6"/>
<text x="797.6" y="772.6" font-size="15" fill="#111" font-weight="normal" text-anchor="end" font-family="'Liberation Serif', serif" >3500</text>
<line x1="804.1" y1="751.2" x2="807.6" y2="751.2" stroke="#000" stroke-width="1.4"/>
<line x1="801.6" y1="734.7" x2="807.6" y2="734.7" stroke="#000" stroke-width="1.6"/>
<text x="797.6" y="739.7" font-size="15" fill="#111" font-weight="normal" text-anchor="end" font-family="'Liberation Serif', serif" >4000</text>
<line x1="804.1" y1="718.3" x2="807.6" y2="718.3" stroke="#000" stroke-width="1.4"/>
<line x1="801.6" y1="701.9" x2="807.6" y2="701.9" stroke="#000" stroke-width="1.6"/>
<text x="797.6" y="706.9" font-size="15" fill="#111" font-weight="normal" text-anchor="end" font-family="'Liberation Serif', serif" >4500</text>
<line x1="833.6" y1="997.5" x2="833.6" y2="1003.5" stroke="#000" stroke-width="1.6"/>
<text x="833.6" y="1020.5" font-size="15" fill="#111" font-weight="normal" text-anchor="middle" font-family="'Liberation Serif', serif" >0</text>
<line x1="859.7" y1="997.5" x2="859.7" y2="1001.0" stroke="#000" stroke-width="1.4"/>
<line x1="885.8" y1="997.5" x2="885.8" y2="1003.5" stroke="#000" stroke-width="1.6"/>
<text x="885.8" y="1020.5" font-size="15" fill="#111" font-weight="normal" text-anchor="middle" font-family="'Liberation Serif', serif" >100</text>
<line x1="911.9" y1="997.5" x2="911.9" y2="1001.0" stroke="#000" stroke-width="1.4"/>
<line x1="938.0" y1="997.5" x2="938.0" y2="1003.5" stroke="#000" stroke-width="1.6"/>
<text x="938.0" y="1020.5" font-size="15" fill="#111" font-weight="normal" text-anchor="middle" font-family="'Liberation Serif', serif" >200</text>
<line x1="964.1" y1="997.5" x2="964.1" y2="1001.0" stroke="#000" stroke-width="1.4"/>
<line x1="990.2" y1="997.5" x2="990.2" y2="1003.5" stroke="#000" stroke-width="1.6"/>
<text x="990.2" y="1020.5" font-size="15" fill="#111" font-weight="normal" text-anchor="middle" font-family="'Liberation Serif', serif" >300</text>
<line x1="1016.3" y1="997.5" x2="1016.3" y2="1001.0" stroke="#000" stroke-width="1.4"/>
<line x1="1042.4" y1="997.5" x2="1042.4" y2="1003.5" stroke="#000" stroke-width="1.6"/>
<text x="1042.4" y="1020.5" font-size="15" fill="#111" font-weight="normal" text-anchor="middle" font-family="'Liberation Serif', serif" >400</text>
<line x1="1068.5" y1="997.5" x2="1068.5" y2="1001.0" stroke="#000" stroke-width="1.4"/>
<line x1="1094.6" y1="997.5" x2="1094.6" y2="1003.5" stroke="#000" stroke-width="1.6"/>
<text x="1094.6" y="1020.5" font-size="15" fill="#111" font-weight="normal" text-anchor="middle" font-family="'Liberation Serif', serif" >500</text>
<line x1="1120.7" y1="997.5" x2="1120.7" y2="1001.0" stroke="#000" stroke-width="1.4"/>
<line x1="1146.8" y1="997.5" x2="1146.8" y2="1003.5" stroke="#000" stroke-width="1.6"/>
<text x="1146.8" y="1020.5" font-size="15" fill="#111" font-weight="normal" text-anchor="middle" font-family="'Liberation Serif', serif" >600</text>
<line x1="1172.9" y1="997.5" x2="1172.9" y2="1001.0" stroke="#000" stroke-width="1.4"/>
<line x1="1199.0" y1="997.5" x2="1199.0" y2="1003.5" stroke="#000" stroke-width="1.6"/>
<text x="1199.0" y="1020.5" font-size="15" fill="#111" font-weight="normal" text-anchor="middle" font-family="'Liberation Serif', serif" >700</text>
<line x1="1225.1" y1="997.5" x2="1225.1" y2="1001.0" stroke="#000" stroke-width="1.4"/>
<line x1="1251.2" y1="997.5" x2="1251.2" y2="1003.5" stroke="#000" stroke-width="1.6"/>
<text x="1251.2" y="1020.5" font-size="15" fill="#111" font-weight="normal" text-anchor="middle" font-family="'Liberation Serif', serif" >800</text>
<text x="995.0" y="1046.0" font-size="17.3" fill="#111" font-weight="normal" text-anchor="start" font-family="'Liberation Serif', serif" textLength="77.0" lengthAdjust="spacingAndGlyphs" >Time (min)</text>
<text x="0" y="0" font-size="19" fill="#111" font-family="'Liberation Serif', serif" text-anchor="middle" transform="translate(758.5,852) rotate(-90)">Q<tspan font-size="13" dy="5">t</tspan><tspan dy="-5">(mg/g)</tspan></text>
<text x="823.0" y="722.0" font-size="19.3" fill="#111" font-weight="normal" text-anchor="start" font-family="'Liberation Serif', serif" textLength="21.0" lengthAdjust="spacingAndGlyphs" >(a)</text>
<polyline points="841.4,976.5 849.3,969.9 864.9,964.7 896.2,958.1 927.6,955.5 958.9,953.5 990.2,952.2 1021.5,952.2 1209.4,951.8" fill="none" stroke="#000000" stroke-width="2.2" stroke-linejoin="round"/>
<rect x="837.8" y="972.9" width="7.2" height="7.2" fill="#000000"/>
<rect x="845.7" y="966.3" width="7.2" height="7.2" fill="#000000"/>
<rect x="861.3" y="961.1" width="7.2" height="7.2" fill="#000000"/>
<rect x="892.6" y="954.5" width="7.2" height="7.2" fill="#000000"/>
<rect x="924.0" y="951.9" width="7.2" height="7.2" fill="#000000"/>
<rect x="955.3" y="949.9" width="7.2" height="7.2" fill="#000000"/>
<rect x="986.6" y="948.6" width="7.2" height="7.2" fill="#000000"/>
<rect x="1017.9" y="948.6" width="7.2" height="7.2" fill="#000000"/>
<rect x="1205.8" y="948.2" width="7.2" height="7.2" fill="#000000"/>
<polyline points="841.4,964.7 849.3,960.1 864.9,958.1 896.2,954.8 927.6,952.2 958.9,950.9 990.2,950.5 1021.5,950.3 1209.4,950.2" fill="none" stroke="#0000ff" stroke-width="2.2" stroke-linejoin="round"/>
<polygon points="841.4,960.1 846.0,967.8 836.8,967.8" fill="#0000ff"/>
<polygon points="849.3,955.5 853.9,963.2 844.7,963.2" fill="#0000ff"/>
<polygon points="864.9,953.5 869.5,961.2 860.3,961.2" fill="#0000ff"/>
<polygon points="896.2,950.2 900.8,957.9 891.6,957.9" fill="#0000ff"/>
<polygon points="927.6,947.6 932.2,955.3 923.0,955.3" fill="#0000ff"/>
<polygon points="958.9,946.3 963.5,954.0 954.3,954.0" fill="#0000ff"/>
<polygon points="990.2,945.9 994.8,953.6 985.6,953.6" fill="#0000ff"/>
<polygon points="1021.5,945.7 1026.1,953.4 1016.9,953.4" fill="#0000ff"/>
<polygon points="1209.4,945.6 1214.0,953.3 1204.8,953.3" fill="#0000ff"/>
<polyline points="841.4,950.9 849.3,940.4 864.9,928.5 896.2,922.6 927.6,920.0 958.9,918.7 990.2,918.0 1021.5,917.4 1209.4,915.3" fill="none" stroke="#ee1111" stroke-width="2.2" stroke-linejoin="round"/>
<circle cx="841.4" cy="950.9" r="4.2" fill="#ee1111"/>
<circle cx="849.3" cy="940.4" r="4.2" fill="#ee1111"/>
<circle cx="864.9" cy="928.5" r="4.2" fill="#ee1111"/>
<circle cx="896.2" cy="922.6" r="4.2" fill="#ee1111"/>
<circle cx="927.6" cy="920.0" r="4.2" fill="#ee1111"/>
<circle cx="958.9" cy="918.7" r="4.2" fill="#ee1111"/>
<circle cx="990.2" cy="918.0" r="4.2" fill="#ee1111"/>
<circle cx="1021.5" cy="917.4" r="4.2" fill="#ee1111"/>
<circle cx="1209.4" cy="915.3" r="4.2" fill="#ee1111"/>
<polyline points="841.4,912.8 849.3,900.3 864.9,895.0 896.2,890.4 927.6,889.1 958.9,888.5 990.2,888.1 1021.5,887.9 1209.4,887.8" fill="none" stroke="#ee00ee" stroke-width="2.2" stroke-linejoin="round"/>
<polygon points="841.4,917.4 846.0,909.7 836.8,909.7" fill="#ee00ee"/>
<polygon points="849.3,904.9 853.9,897.2 844.7,897.2" fill="#ee00ee"/>
<polygon points="864.9,899.6 869.5,891.9 860.3,891.9" fill="#ee00ee"/>
<polygon points="896.2,895.0 900.8,887.3 891.6,887.3" fill="#ee00ee"/>
<polygon points="927.6,893.7 932.2,886.0 923.0,886.0" fill="#ee00ee"/>
<polygon points="958.9,893.1 963.5,885.4 954.3,885.4" fill="#ee00ee"/>
<polygon points="990.2,892.7 994.8,885.0 985.6,885.0" fill="#ee00ee"/>
<polygon points="1021.5,892.5 1026.1,884.8 1016.9,884.8" fill="#ee00ee"/>
<polygon points="1209.4,892.4 1214.0,884.7 1204.8,884.7" fill="#ee00ee"/>
<polyline points="836.2,902.3 838.8,893.7 841.4,884.5 844.0,878.6 854.5,874.7 875.4,868.7 896.2,862.8 927.6,855.0 958.9,849.7 990.2,849.6 1021.5,849.6 1209.4,849.5" fill="none" stroke="#118811" stroke-width="2.2" stroke-linejoin="round"/>
<polygon points="836.2,897.5 841.0,902.3 836.2,907.1 831.4,902.3" fill="#118811"/>
<polygon points="838.8,888.9 843.6,893.7 838.8,898.5 834.0,893.7" fill="#118811"/>
<polygon points="841.4,879.7 846.2,884.5 841.4,889.3 836.6,884.5" fill="#118811"/>
<polygon points="844.0,873.8 848.8,878.6 844.0,883.4 839.2,878.6" fill="#118811"/>
<polygon points="854.5,869.9 859.3,874.7 854.5,879.5 849.7,874.7" fill="#118811"/>
<polygon points="875.4,863.9 880.2,868.7 875.4,873.5 870.6,868.7" fill="#118811"/>
<polygon points="896.2,858.0 901.0,862.8 896.2,867.6 891.4,862.8" fill="#118811"/>
<polygon points="927.6,850.2 932.4,855.0 927.6,859.8 922.8,855.0" fill="#118811"/>
<polygon points="958.9,844.9 963.7,849.7 958.9,854.5 954.1,849.7" fill="#118811"/>
<polygon points="990.2,844.8 995.0,849.6 990.2,854.4 985.4,849.6" fill="#118811"/>
<polygon points="1021.5,844.8 1026.3,849.6 1021.5,854.4 1016.7,849.6" fill="#118811"/>
<polygon points="1209.4,844.7 1214.2,849.5 1209.4,854.3 1204.6,849.5" fill="#118811"/>
<polyline points="836.2,777.8 838.8,754.5 841.4,741.3 844.0,734.7 854.5,728.2 875.4,724.9 896.2,723.9 927.6,722.9 958.9,722.3 990.2,721.9 1021.5,721.7 1209.4,721.6" fill="none" stroke="#10108a" stroke-width="2.2" stroke-linejoin="round"/>
<polygon points="831.6,777.8 839.8,773.2 839.8,782.4" fill="#10108a"/>
<polygon points="834.2,754.5 842.4,749.9 842.4,759.1" fill="#10108a"/>
<polygon points="836.8,741.3 845.0,736.7 845.0,745.9" fill="#10108a"/>
<polygon points="839.4,734.7 847.6,730.1 847.6,739.3" fill="#10108a"/>
<polygon points="849.9,728.2 858.1,723.6 858.1,732.8" fill="#10108a"/>
<polygon points="870.8,724.9 879.0,720.3 879.0,729.5" fill="#10108a"/>
<polygon points="891.6,723.9 899.8,719.3 899.8,728.5" fill="#10108a"/>
<polygon points="923.0,722.9 931.2,718.3 931.2,727.5" fill="#10108a"/>
<polygon points="954.3,722.3 962.5,717.7 962.5,726.9" fill="#10108a"/>
<polygon points="985.6,721.9 993.8,717.3 993.8,726.5" fill="#10108a"/>
<polygon points="1016.9,721.7 1025.1,717.1 1025.1,726.3" fill="#10108a"/>
<polygon points="1204.8,721.6 1213.0,717.0 1213.0,726.2" fill="#10108a"/>
<text x="1138.0" y="740.0" font-size="15.6" fill="#111" font-weight="normal" text-anchor="start" font-family="'Liberation Serif', serif" textLength="42.0" lengthAdjust="spacingAndGlyphs" >4200.8</text>
<text x="1136.0" y="840.5" font-size="15.6" fill="#111" font-weight="normal" text-anchor="start" font-family="'Liberation Serif', serif" textLength="42.0" lengthAdjust="spacingAndGlyphs" >2252.8</text>
<text x="1152.7" y="880.0" font-size="15.1" fill="#111" font-weight="normal" text-anchor="start" font-family="'Liberation Serif', serif" textLength="40.8" lengthAdjust="spacingAndGlyphs" >1670.6</text>
<text x="1157.0" y="909.0" font-size="14.3" fill="#111" font-weight="normal" text-anchor="start" font-family="'Liberation Serif', serif" textLength="28.0" lengthAdjust="spacingAndGlyphs" >1252</text>
<text x="1155.0" y="943.5" font-size="15.0" fill="#111" font-weight="normal" text-anchor="start" font-family="'Liberation Serif', serif" textLength="33.0" lengthAdjust="spacingAndGlyphs" >719.8</text>
<text x="1146.0" y="979.0" font-size="15.4" fill="#111" font-weight="normal" text-anchor="start" font-family="'Liberation Serif', serif" textLength="34.0" lengthAdjust="spacingAndGlyphs" >695.4</text>
<line x1="904.6" y1="768.8" x2="935.6" y2="768.8" stroke="#000000" stroke-width="2.2"/>
<rect x="916.1" y="764.8" width="8.0" height="8.0" fill="#000000"/>
<text x="940.0" y="773.8" font-size="14.4" fill="#111" font-weight="normal" text-anchor="start" font-family="'Liberation Serif', serif" >NO<tspan font-size='8' dy='3'>3</tspan><tspan dy='-3'>-LDH-CR</tspan></text>
<line x1="1031.8" y1="768.8" x2="1062.8" y2="768.8" stroke="#ee1111" stroke-width="2.2"/>
<circle cx="1047.3" cy="768.8" r="4.6" fill="#ee1111"/>
<text x="1064.0" y="773.8" font-size="14.4" fill="#111" font-weight="normal" text-anchor="start" font-family="'Liberation Serif', serif" >ST-LDH-CR</text>
<line x1="904.6" y1="790.5" x2="935.6" y2="790.5" stroke="#0000ff" stroke-width="2.2"/>
<polygon points="920.1,785.5 925.1,794.0 915.1,794.0" fill="#0000ff"/>
<text x="940.0" y="795.5" font-size="14.4" fill="#111" font-weight="normal" text-anchor="start" font-family="'Liberation Serif', serif" >NO<tspan font-size='8' dy='3'>3</tspan><tspan dy='-3'>-LDH-O&#8545;</tspan></text>
<line x1="1031.8" y1="790.5" x2="1062.8" y2="790.5" stroke="#ee00ee" stroke-width="2.2"/>
<polygon points="1047.3,795.5 1052.3,787.0 1042.3,787.0" fill="#ee00ee"/>
<text x="1064.0" y="795.5" font-size="14.4" fill="#111" font-weight="normal" text-anchor="start" font-family="'Liberation Serif', serif" >ST-LDH-O&#8545;</text>
<line x1="904.6" y1="811.0" x2="935.6" y2="811.0" stroke="#118811" stroke-width="2.2"/>
<polygon points="920.1,805.8 925.3,811.0 920.1,816.2 914.9,811.0" fill="#118811"/>
<text x="940.0" y="816.0" font-size="14.4" fill="#111" font-weight="normal" text-anchor="start" font-family="'Liberation Serif', serif" >NO<tspan font-size='8' dy='3'>3</tspan><tspan dy='-3'>-LDH-MO</tspan></text>
<line x1="1031.8" y1="811.0" x2="1062.8" y2="811.0" stroke="#10108a" stroke-width="2.2"/>
<polygon points="1042.3,811.0 1051.3,806.0 1051.3,816.0" fill="#10108a"/>
<text x="1064.0" y="816.0" font-size="14.4" fill="#111" font-weight="normal" text-anchor="start" font-family="'Liberation Serif', serif" >ST-LDH-MO</text>
<text x="812.4" y="1081.6" font-size="25" fill="#111" font-weight="normal" text-anchor="start" font-family="'Liberation Serif', serif" textLength="423.6" lengthAdjust="spacingAndGlyphs" >Adsorption of NO<tspan font-size='17' dy='6'>3</tspan><tspan dy='-6'>-LDHs and ST-LDH for</tspan></text>
<text x="877.0" y="1111.6" font-size="25.1" fill="#111" font-weight="normal" text-anchor="start" font-family="'Liberation Serif', serif" textLength="293.6" lengthAdjust="spacingAndGlyphs" >the dyes of&#160; MO, CR and OII.</text>
<rect x="594.3" y="1128.3" width="636.3" height="496.20000000000005" fill="none" stroke="#000" stroke-width="2.6"/>
<line x1="587.3" y1="1624.5" x2="594.3" y2="1624.5" stroke="#000" stroke-width="2"/>
<text x="583.3" y="1631.0" font-size="19" fill="#111" font-weight="normal" text-anchor="end" font-family="'Liberation Serif', serif" >0</text>
<line x1="590.3" y1="1579.3" x2="594.3" y2="1579.3" stroke="#000" stroke-width="1.6"/>
<line x1="587.3" y1="1534.2" x2="594.3" y2="1534.2" stroke="#000" stroke-width="2"/>
<text x="583.3" y="1540.7" font-size="19" fill="#111" font-weight="normal" text-anchor="end" font-family="'Liberation Serif', serif" >20</text>
<line x1="590.3" y1="1489.0" x2="594.3" y2="1489.0" stroke="#000" stroke-width="1.6"/>
<line x1="587.3" y1="1443.9" x2="594.3" y2="1443.9" stroke="#000" stroke-width="2"/>
<text x="583.3" y="1450.4" font-size="19" fill="#111" font-weight="normal" text-anchor="end" font-family="'Liberation Serif', serif" >40</text>
<line x1="590.3" y1="1398.8" x2="594.3" y2="1398.8" stroke="#000" stroke-width="1.6"/>
<line x1="587.3" y1="1353.6" x2="594.3" y2="1353.6" stroke="#000" stroke-width="2"/>
<text x="583.3" y="1360.1" font-size="19" fill="#111" font-weight="normal" text-anchor="end" font-family="'Liberation Serif', serif" >60</text>
<line x1="590.3" y1="1308.5" x2="594.3" y2="1308.5" stroke="#000" stroke-width="1.6"/>
<line x1="587.3" y1="1263.3" x2="594.3" y2="1263.3" stroke="#000" stroke-width="2"/>
<text x="583.3" y="1269.8" font-size="19" fill="#111" font-weight="normal" text-anchor="end" font-family="'Liberation Serif', serif" >80</text>
<line x1="590.3" y1="1218.2" x2="594.3" y2="1218.2" stroke="#000" stroke-width="1.6"/>
<line x1="587.3" y1="1173.0" x2="594.3" y2="1173.0" stroke="#000" stroke-width="2"/>
<text x="583.3" y="1179.5" font-size="19" fill="#111" font-weight="normal" text-anchor="end" font-family="'Liberation Serif', serif" >100</text>
<line x1="590.3" y1="1127.8" x2="594.3" y2="1127.8" stroke="#000" stroke-width="1.6"/>
<rect x="650.3" y="1173.4" width="48.4" height="451.1" fill="#f9c393" stroke="#7a5030" stroke-width="1.2"/>
<line x1="674.5" y1="1624.5" x2="674.5" y2="1631.5" stroke="#000" stroke-width="2"/>
<line x1="754.0" y1="1624.5" x2="754.0" y2="1628.5" stroke="#000" stroke-width="1.6"/>
<text x="674.5" y="1169.4" font-size="19" fill="#111" font-weight="normal" text-anchor="middle" font-family="'Liberation Serif', serif" >99.92</text>
<text x="674.5" y="1652.0" font-size="19" fill="#111" font-weight="normal" text-anchor="middle" font-family="'Liberation Serif', serif" >Cycle 0</text>
<rect x="809.2" y="1180.2" width="48.4" height="444.3" fill="#f9c393" stroke="#7a5030" stroke-width="1.2"/>
<line x1="833.4" y1="1624.5" x2="833.4" y2="1631.5" stroke="#000" stroke-width="2"/>
<line x1="912.9" y1="1624.5" x2="912.9" y2="1628.5" stroke="#000" stroke-width="1.6"/>
<text x="833.4" y="1176.2" font-size="19" fill="#111" font-weight="normal" text-anchor="middle" font-family="'Liberation Serif', serif" >98.41</text>
<text x="833.4" y="1652.0" font-size="19" fill="#111" font-weight="normal" text-anchor="middle" font-family="'Liberation Serif', serif" >Cycle 1</text>
<rect x="968.1" y="1187.2" width="48.4" height="437.3" fill="#f9c393" stroke="#7a5030" stroke-width="1.2"/>
<line x1="992.3" y1="1624.5" x2="992.3" y2="1631.5" stroke="#000" stroke-width="2"/>
<line x1="1071.8" y1="1624.5" x2="1071.8" y2="1628.5" stroke="#000" stroke-width="1.6"/>
<text x="992.3" y="1183.2" font-size="19" fill="#111" font-weight="normal" text-anchor="middle" font-family="'Liberation Serif', serif" >96.85</text>
<text x="992.3" y="1652.0" font-size="19" fill="#111" font-weight="normal" text-anchor="middle" font-family="'Liberation Serif', serif" >Cycle 2</text>
<rect x="1127.0" y="1192.3" width="48.4" height="432.2" fill="#f9c393" stroke="#7a5030" stroke-width="1.2"/>
<line x1="1151.2" y1="1624.5" x2="1151.2" y2="1631.5" stroke="#000" stroke-width="2"/>
<text x="1151.2" y="1188.3" font-size="19" fill="#111" font-weight="normal" text-anchor="middle" font-family="'Liberation Serif', serif" >95.72</text>
<text x="1151.2" y="1652.0" font-size="19" fill="#111" font-weight="normal" text-anchor="middle" font-family="'Liberation Serif', serif" >Cycle 3</text>
<text x="608.5" y="1176.7" font-size="19.3" fill="#111" font-weight="normal" text-anchor="start" font-family="'Liberation Serif', serif" textLength="22.1" lengthAdjust="spacingAndGlyphs" >(b)</text>
<text x="853.0" y="1684.5" font-size="21.4" fill="#111" font-weight="normal" text-anchor="start" font-family="'Liberation Serif', serif" textLength="118.5" lengthAdjust="spacingAndGlyphs" >Cycle number</text>
<text x="0" y="0" font-size="21.4" fill="#111" font-family="'Liberation Serif', serif" text-anchor="middle" transform="translate(544.5,1375) rotate(-90)">Removal rate (%)</text>
<text x="178.5" y="1733.0" font-size="25.4" fill="#111" font-weight="normal" text-anchor="start" font-family="'Liberation Serif', serif" textLength="1031.3" lengthAdjust="spacingAndGlyphs" >Schematic diagram of adsorption recycle for ST-LDH in MO solution (a) and adsorption capacity (b) of</text>
<text x="366.6" y="1761.5" font-size="24.8" fill="#111" font-weight="normal" text-anchor="start" font-family="'Liberation Serif', serif" textLength="636.4" lengthAdjust="spacingAndGlyphs" >ST-LDH and Re-LDH for MO in recycle adsorption experiments.</text>
<defs>
<filter id="grain" x="0" y="0" width="100%" height="100%" color-interpolation-filters="sRGB">
 <feTurbulence type="fractalNoise" baseFrequency="0.25" numOctaves="3" seed="5"/>
 <feColorMatrix type="matrix" values="2 0 0 0 -0.5  2 0 0 0 -0.5  2 0 0 0 -0.5  0 0 0 0 0.09"/>
</filter>
<filter id="powder" x="-5%" y="-5%" width="110%" height="110%">
 <feTurbulence type="fractalNoise" baseFrequency="0.35" numOctaves="2" seed="8" result="n"/>
 <feDisplacementMap in="SourceGraphic" in2="n" scale="7" xChannelSelector="R" yChannelSelector="G" result="d"/>
 <feColorMatrix in="n" type="matrix" values="0 0 0 0 0  0 0 0 0 0  0 0 0 0 0  0 0 -1.2 0 0.75" result="sh"/>
 <feComposite in="sh" in2="d" operator="in" result="sh2"/>
 <feMerge><feMergeNode in="d"/><feMergeNode in="sh2"/></feMerge>
</filter>
<linearGradient id="gold" x1="0" y1="0" x2="1" y2="1">
 <stop offset="0" stop-color="#c9a000"/><stop offset="0.5" stop-color="#f5c400"/><stop offset="1" stop-color="#b88f10"/>
</linearGradient>
<linearGradient id="vial0" x1="0" y1="0" x2="1" y2="0">
 <stop offset="0" stop-color="#c9cbcc"/><stop offset="0.15" stop-color="#e6e8e9"/><stop offset="0.8" stop-color="#eceeef"/><stop offset="1" stop-color="#cfd1d2"/>
</linearGradient>
<linearGradient id="liqMO" x1="0" y1="0" x2="1" y2="0">
 <stop offset="0" stop-color="#d9900f"/><stop offset="0.5" stop-color="#e38a0e"/><stop offset="1" stop-color="#c9780e"/>
</linearGradient>
</defs>
<rect x="86" y="1123.2" width="401.8" height="544.5" fill="none" stroke="#000" stroke-width="2.2"/>
<rect x="197.4" y="1156.8" width="193.4" height="145.4" fill="#aeaba6"/>
<rect x="197.4" y="1156.8" width="193.4" height="145.4" filter="url(#grain)"/>
<rect x="195.6" y="1325.7" width="193.6" height="162.3" fill="#aca9a6"/>
<rect x="195.6" y="1325.7" width="193.6" height="162.3" filter="url(#grain)"/>
<rect x="90" y="1469" width="193.6" height="191.0" fill="#a9a7a4"/>
<rect x="90" y="1469" width="193.6" height="191.0" filter="url(#grain)"/>
<path d="M233.0,1214.5 L244.6,1191.4 L267.8,1186.4 L292.6,1183.0 L319.0,1178.0 L339.0,1196.0 L345.6,1216.0 L339.0,1242.7 L334.0,1275.8 L322.4,1294.0 L289.3,1295.6 L266.0,1285.7 L261.0,1257.6 L259.5,1232.7 L239.6,1222.8 Z" fill="#d8834a" filter="url(#powder)"/>
<path d="M219.0,1388.0 L227.0,1380.0 L264.0,1367.0 L290.0,1347.5 L335.0,1352.0 L348.0,1381.0 L364.5,1407.0 L364.5,1433.0 L335.0,1457.0 L303.0,1464.0 L259.5,1455.7 L251.4,1438.0 L238.5,1420.0 L219.0,1407.0 Z" fill="#c4532a" filter="url(#powder)"/>
<path d="M115.6,1572.5 L128.0,1522.9 L143.0,1501.4 L167.7,1498.0 L177.7,1486.5 L197.5,1486.5 L217.4,1508.0 L237.2,1529.5 L257.0,1559.3 L250.5,1592.4 L234.0,1618.9 L200.8,1632.0 L159.5,1628.8 L134.6,1602.3 L118.0,1585.8 Z" fill="#e2a031" filter="url(#powder)"/>
<circle cx="274.1" cy="1171.6" r="1.7" fill="#d08048" opacity="0.85"/>
<circle cx="251.5" cy="1180.9" r="1.3" fill="#d08048" opacity="0.85"/>
<circle cx="250.2" cy="1180.2" r="0.9" fill="#d08048" opacity="0.85"/>
<circle cx="284.0" cy="1169.7" r="0.9" fill="#d08048" opacity="0.85"/>
<circle cx="283.2" cy="1187.8" r="1.0" fill="#d08048" opacity="0.85"/>
<circle cx="265.1" cy="1183.1" r="2.1" fill="#d08048" opacity="0.85"/>
<circle cx="296.9" cy="1177.5" r="2.2" fill="#d08048" opacity="0.85"/>
<circle cx="249.2" cy="1188.6" r="1.2" fill="#d08048" opacity="0.85"/>
<circle cx="258.0" cy="1170.8" r="1.2" fill="#d08048" opacity="0.85"/>
<circle cx="318.5" cy="1172.3" r="1.6" fill="#d08048" opacity="0.85"/>
<circle cx="302.5" cy="1176.9" r="1.6" fill="#d08048" opacity="0.85"/>
<circle cx="250.7" cy="1169.4" r="1.1" fill="#d08048" opacity="0.85"/>
<circle cx="306.2" cy="1178.3" r="1.2" fill="#d08048" opacity="0.85"/>
<circle cx="297.7" cy="1178.9" r="1.2" fill="#d08048" opacity="0.85"/>
<circle cx="316.5" cy="1184.8" r="1.1" fill="#d08048" opacity="0.85"/>
<circle cx="296.7" cy="1180.6" r="2.0" fill="#d08048" opacity="0.85"/>
<circle cx="310.7" cy="1174.9" r="2.2" fill="#d08048" opacity="0.85"/>
<circle cx="255.6" cy="1178.0" r="1.9" fill="#d08048" opacity="0.85"/>
<circle cx="258.7" cy="1179.7" r="0.9" fill="#d08048" opacity="0.85"/>
<circle cx="305.1" cy="1186.3" r="1.6" fill="#d08048" opacity="0.85"/>
<circle cx="323.8" cy="1175.5" r="1.8" fill="#d08048" opacity="0.85"/>
<circle cx="298.5" cy="1181.9" r="1.4" fill="#d08048" opacity="0.85"/>
<circle cx="320.6" cy="1190.7" r="1.5" fill="#d08048" opacity="0.85"/>
<circle cx="304.8" cy="1169.5" r="1.8" fill="#d08048" opacity="0.85"/>
<circle cx="303.2" cy="1191.8" r="2.0" fill="#d08048" opacity="0.85"/>
<circle cx="270.6" cy="1177.3" r="1.7" fill="#d08048" opacity="0.85"/>
<circle cx="247.0" cy="1179.1" r="1.0" fill="#d08048" opacity="0.85"/>
<circle cx="255.5" cy="1169.4" r="1.9" fill="#d08048" opacity="0.85"/>
<circle cx="256.6" cy="1173.9" r="1.3" fill="#d08048" opacity="0.85"/>
<circle cx="323.4" cy="1169.9" r="1.4" fill="#d08048" opacity="0.85"/>
<circle cx="294.4" cy="1189.2" r="1.9" fill="#d08048" opacity="0.85"/>
<circle cx="322.8" cy="1174.7" r="1.4" fill="#d08048" opacity="0.85"/>
<circle cx="277.3" cy="1189.2" r="2.1" fill="#d08048" opacity="0.85"/>
<circle cx="258.6" cy="1172.2" r="1.1" fill="#d08048" opacity="0.85"/>
<circle cx="266.0" cy="1179.6" r="1.6" fill="#d08048" opacity="0.85"/>
<circle cx="268.6" cy="1168.1" r="1.4" fill="#d08048" opacity="0.85"/>
<circle cx="278.2" cy="1181.6" r="2.1" fill="#d08048" opacity="0.85"/>
<circle cx="307.1" cy="1180.4" r="1.7" fill="#d08048" opacity="0.85"/>
<circle cx="305.9" cy="1169.3" r="2.1" fill="#d08048" opacity="0.85"/>
<circle cx="315.2" cy="1189.0" r="1.9" fill="#d08048" opacity="0.85"/>
<circle cx="311.8" cy="1168.0" r="0.9" fill="#d08048" opacity="0.85"/>
<circle cx="319.0" cy="1161.2" r="0.9" fill="#d08048" opacity="0.85"/>
<circle cx="306.3" cy="1163.2" r="1.3" fill="#d08048" opacity="0.85"/>
<circle cx="301.6" cy="1160.0" r="1.0" fill="#d08048" opacity="0.85"/>
<circle cx="303.0" cy="1167.3" r="0.8" fill="#d08048" opacity="0.85"/>
<circle cx="326.2" cy="1172.3" r="1.0" fill="#d08048" opacity="0.85"/>
<circle cx="307.6" cy="1166.9" r="1.3" fill="#d08048" opacity="0.85"/>
<circle cx="303.7" cy="1177.0" r="2.2" fill="#d08048" opacity="0.85"/>
<circle cx="314.0" cy="1169.7" r="0.9" fill="#d08048" opacity="0.85"/>
<circle cx="303.1" cy="1166.9" r="1.2" fill="#d08048" opacity="0.85"/>
<circle cx="324.9" cy="1163.2" r="0.8" fill="#d08048" opacity="0.85"/>
<circle cx="328.5" cy="1170.6" r="1.0" fill="#d08048" opacity="0.85"/>
<circle cx="251.9" cy="1230.8" r="1.5" fill="#d08048" opacity="0.85"/>
<circle cx="261.5" cy="1255.9" r="1.8" fill="#d08048" opacity="0.85"/>
<circle cx="245.7" cy="1241.0" r="1.0" fill="#d08048" opacity="0.85"/>
<circle cx="257.0" cy="1246.0" r="1.9" fill="#d08048" opacity="0.85"/>
<circle cx="247.3" cy="1236.7" r="1.9" fill="#d08048" opacity="0.85"/>
<circle cx="261.7" cy="1255.6" r="1.9" fill="#d08048" opacity="0.85"/>
<circle cx="258.0" cy="1252.2" r="1.1" fill="#d08048" opacity="0.85"/>
<circle cx="251.4" cy="1240.7" r="0.8" fill="#d08048" opacity="0.85"/>
<circle cx="240.6" cy="1238.4" r="1.2" fill="#d08048" opacity="0.85"/>
<circle cx="255.2" cy="1258.7" r="1.4" fill="#d08048" opacity="0.85"/>
<circle cx="260.6" cy="1259.6" r="2.1" fill="#d08048" opacity="0.85"/>
<circle cx="248.0" cy="1236.6" r="1.1" fill="#d08048" opacity="0.85"/>
<circle cx="244.3" cy="1236.1" r="1.7" fill="#d08048" opacity="0.85"/>
<circle cx="259.8" cy="1255.2" r="1.5" fill="#d08048" opacity="0.85"/>
<circle cx="254.4" cy="1254.0" r="0.9" fill="#d08048" opacity="0.85"/>
<circle cx="115.2" cy="1629.2" r="2.1" fill="#d89a3a" opacity="0.85"/>
<circle cx="117.8" cy="1577.4" r="1.1" fill="#d89a3a" opacity="0.85"/>
<circle cx="118.9" cy="1559.9" r="2.2" fill="#d89a3a" opacity="0.85"/>
<circle cx="124.2" cy="1567.5" r="1.5" fill="#d89a3a" opacity="0.85"/>
<circle cx="123.5" cy="1607.0" r="1.1" fill="#d89a3a" opacity="0.85"/>
<circle cx="99.7" cy="1538.1" r="2.3" fill="#d89a3a" opacity="0.85"/>
<circle cx="119.4" cy="1537.5" r="2.2" fill="#d89a3a" opacity="0.85"/>
<circle cx="124.4" cy="1598.9" r="1.4" fill="#d89a3a" opacity="0.85"/>
<circle cx="111.9" cy="1535.7" r="0.8" fill="#d89a3a" opacity="0.85"/>
<circle cx="124.2" cy="1598.0" r="1.7" fill="#d89a3a" opacity="0.85"/>
<circle cx="123.1" cy="1572.1" r="2.3" fill="#d89a3a" opacity="0.85"/>
<circle cx="120.0" cy="1545.3" r="1.2" fill="#d89a3a" opacity="0.85"/>
<circle cx="104.5" cy="1548.9" r="1.8" fill="#d89a3a" opacity="0.85"/>
<circle cx="103.5" cy="1570.3" r="1.0" fill="#d89a3a" opacity="0.85"/>
<circle cx="122.4" cy="1562.5" r="1.6" fill="#d89a3a" opacity="0.85"/>
<circle cx="112.9" cy="1628.5" r="1.5" fill="#d89a3a" opacity="0.85"/>
<circle cx="122.6" cy="1580.2" r="1.7" fill="#d89a3a" opacity="0.85"/>
<circle cx="111.2" cy="1522.2" r="1.5" fill="#d89a3a" opacity="0.85"/>
<circle cx="101.3" cy="1520.5" r="2.2" fill="#d89a3a" opacity="0.85"/>
<circle cx="101.0" cy="1576.8" r="2.0" fill="#d89a3a" opacity="0.85"/>
<circle cx="112.1" cy="1559.1" r="1.7" fill="#d89a3a" opacity="0.85"/>
<circle cx="112.1" cy="1614.1" r="1.0" fill="#d89a3a" opacity="0.85"/>
<circle cx="112.2" cy="1549.8" r="1.3" fill="#d89a3a" opacity="0.85"/>
<circle cx="118.4" cy="1580.9" r="1.8" fill="#d89a3a" opacity="0.85"/>
<circle cx="118.0" cy="1629.5" r="1.6" fill="#d89a3a" opacity="0.85"/>
<circle cx="150.6" cy="1642.6" r="1.7" fill="#d89a3a" opacity="0.85"/>
<circle cx="154.6" cy="1641.3" r="1.7" fill="#d89a3a" opacity="0.85"/>
<circle cx="143.9" cy="1653.5" r="2.0" fill="#d89a3a" opacity="0.85"/>
<circle cx="163.8" cy="1653.6" r="1.2" fill="#d89a3a" opacity="0.85"/>
<circle cx="148.0" cy="1653.6" r="2.2" fill="#d89a3a" opacity="0.85"/>
<circle cx="126.9" cy="1633.0" r="1.6" fill="#d89a3a" opacity="0.85"/>
<circle cx="123.6" cy="1636.0" r="0.9" fill="#d89a3a" opacity="0.85"/>
<circle cx="153.5" cy="1649.6" r="2.3" fill="#d89a3a" opacity="0.85"/>
<circle cx="127.7" cy="1647.9" r="1.9" fill="#d89a3a" opacity="0.85"/>
<circle cx="127.1" cy="1652.1" r="2.4" fill="#d89a3a" opacity="0.85"/>
<circle cx="244.4" cy="1468.6" r="1.4" fill="#b85028" opacity="0.85"/>
<circle cx="249.7" cy="1469.7" r="2.0" fill="#b85028" opacity="0.85"/>
<circle cx="243.2" cy="1452.9" r="1.5" fill="#b85028" opacity="0.85"/>
<circle cx="246.8" cy="1445.9" r="1.2" fill="#b85028" opacity="0.85"/>
<circle cx="254.4" cy="1440.6" r="1.6" fill="#b85028" opacity="0.85"/>
<circle cx="248.8" cy="1440.5" r="1.3" fill="#b85028" opacity="0.85"/>
<circle cx="252.5" cy="1455.4" r="0.9" fill="#b85028" opacity="0.85"/>
<circle cx="259.7" cy="1463.7" r="2.2" fill="#b85028" opacity="0.85"/>
<circle cx="242.1" cy="1448.0" r="0.9" fill="#b85028" opacity="0.85"/>
<circle cx="255.6" cy="1448.1" r="1.0" fill="#b85028" opacity="0.85"/>
<circle cx="248.4" cy="1467.3" r="1.9" fill="#b85028" opacity="0.85"/>
<circle cx="245.2" cy="1444.5" r="2.1" fill="#b85028" opacity="0.85"/>
<rect x="107.7" y="1302" width="67.7" height="116.2" fill="url(#vial0)"/>
<rect x="107.7" y="1302" width="67.7" height="116.2" fill="#b8baba" opacity="0.25"/>
<rect x="122" y="1311" width="40" height="3" fill="#9a9c9c" opacity="0.35"/>
<rect x="111" y="1365" width="59" height="48" fill="url(#liqMO)"/>
<rect x="111" y="1363" width="59" height="4" fill="#e8b040" opacity="0.8"/>
<rect x="407.2" y="1302.9" width="71" height="114.8" fill="url(#vial0)"/>
<rect x="407.2" y="1302.9" width="71" height="114.8" fill="#c8cacc" opacity="0.3"/>
<rect x="412" y="1385" width="62" height="26" fill="#e0e2df" opacity="0.8"/>
<line x1="408" y1="1411" x2="478" y2="1411" stroke="#8a8c8e" stroke-width="1.2" opacity="0.7"/>
<rect x="397.5" y="1529" width="73.3" height="104.8" fill="#cdd0d3"/>
<rect x="408" y="1552" width="60.5" height="78" rx="5" fill="#d7d0b2"/>
<rect x="412" y="1533" width="53.4" height="20" rx="3" fill="#dfe1e2" stroke="#a9abac" stroke-width="1"/>
<rect x="410" y="1620" width="56" height="8" rx="3" fill="#e1dcc6"/>
<path d="M227.3,1239.4 C200,1252 180,1280 181,1308 C182,1335 200,1362 240,1371 L246,1375 L278.7,1351 L231.2,1342 L232,1346 C212,1342 196,1335 193,1322 C190,1305 197,1285 239.4,1264.2 Z" fill="#1010e0"/>
<path d="M276.5,1545.4 C266,1568 261,1585 261.7,1600 C262,1625 270,1645 300,1660 C315,1667 335,1668 346,1665 L368,1656.3 L378,1662.4 L387.4,1611.6 L329,1633 L339.4,1639.8 C325,1646 310,1651 299.7,1650.3 C290,1645 288,1630 288.7,1612 C289,1595 293,1578 303,1561 Z" fill="#1010e0"/>
<polygon points="292.7,1424.6 310.1,1438.4 245.6,1515.8 255.3,1524.5 220.5,1525.5 217.9,1492.7 227.1,1499.9" fill="url(#gold)" stroke="#3f5f5a" stroke-width="1"/>
<text x="0" y="0" font-size="12" font-weight="bold" fill="#111" font-family="'Liberation Serif', serif" textLength="74" lengthAdjust="spacingAndGlyphs" transform="translate(235,1503) rotate(-47)">Photocatalysis</text>
<text x="0" y="0" font-size="14" font-weight="bold" fill="#e3cc3c" font-family="'Liberation Serif', serif" textLength="92" lengthAdjust="spacingAndGlyphs" transform="translate(258,1535) rotate(-50.4)">Regeneration</text>
<text x="0" y="0" font-size="12.5" font-weight="bold" fill="#e0185a" font-family="'Liberation Serif', serif" textLength="46" lengthAdjust="spacingAndGlyphs" transform="translate(185,1295) rotate(-45)">Adsorb</text>
<text x="0" y="0" font-size="12.5" font-weight="bold" fill="#e0185a" font-family="'Liberation Serif', serif" textLength="53" lengthAdjust="spacingAndGlyphs" transform="translate(281,1613) rotate(-68)">Recycle</text>
<text x="0" y="0" font-size="12.5" font-weight="bold" fill="#e0185a" font-family="'Liberation Serif', serif" textLength="49" lengthAdjust="spacingAndGlyphs" transform="translate(324,1661) rotate(-41)">Adsorb</text>
<text x="111.4" y="1166.5" font-size="17.1" fill="#111" font-weight="normal" text-anchor="start" font-family="'Liberation Serif', serif" textLength="18.6" lengthAdjust="spacingAndGlyphs" >(a)</text>
<text x="271.3" y="1145.9" font-size="18.6" fill="#1a1ab4" font-weight="bold" text-anchor="start" font-family="'Liberation Serif', serif" textLength="66.2" lengthAdjust="spacingAndGlyphs" >ST-LDH</text>
<text x="243.7" y="1319.0" font-size="18.6" fill="#1a1ab4" font-weight="bold" text-anchor="start" font-family="'Liberation Serif', serif" textLength="103.5" lengthAdjust="spacingAndGlyphs" >ST-LDH-MO</text>
<text x="166.7" y="1538.0" font-size="18.7" fill="#1a1ab4" font-weight="bold" text-anchor="start" font-family="'Liberation Serif', serif" textLength="67.3" lengthAdjust="spacingAndGlyphs" >Re-LDH</text>
<text x="131.0" y="1330.7" font-size="15.1" fill="#111" font-weight="bold" text-anchor="start" font-family="'Liberation Serif', serif" textLength="25.5" lengthAdjust="spacingAndGlyphs" >MO</text>
<text x="117.0" y="1343.1" font-size="14.0" fill="#111" font-weight="bold" text-anchor="start" font-family="'Liberation Serif', serif" textLength="51.9" lengthAdjust="spacingAndGlyphs" >100mg/L</text>
<text x="417.2" y="1338.6" font-size="16.3" fill="#111" font-weight="bold" text-anchor="start" font-family="'Liberation Serif', serif" textLength="55.8" lengthAdjust="spacingAndGlyphs" >Purified</text>
<text x="425.7" y="1351.0" font-size="15.9" fill="#111" font-weight="bold" text-anchor="start" font-family="'Liberation Serif', serif" textLength="38.2" lengthAdjust="spacingAndGlyphs" >water</text>
<text x="420.0" y="1444.6" font-size="15.9" fill="#111" font-weight="bold" text-anchor="start" font-family="'Liberation Serif', serif" textLength="49.0" lengthAdjust="spacingAndGlyphs" >Cycle 0</text>
<text x="408.8" y="1570.2" font-size="16.3" fill="#111" font-weight="bold" text-anchor="start" font-family="'Liberation Serif', serif" textLength="55.8" lengthAdjust="spacingAndGlyphs" >Purified</text>
<text x="417.9" y="1582.8" font-size="15.7" fill="#111" font-weight="bold" text-anchor="start" font-family="'Liberation Serif', serif" textLength="37.6" lengthAdjust="spacingAndGlyphs" >water</text>
<text x="413.6" y="1651.8" font-size="16.1" fill="#111" font-weight="bold" text-anchor="start" font-family="'Liberation Serif', serif" textLength="49.4" lengthAdjust="spacingAndGlyphs" >Cycle 3</text>
</svg></body></html>
